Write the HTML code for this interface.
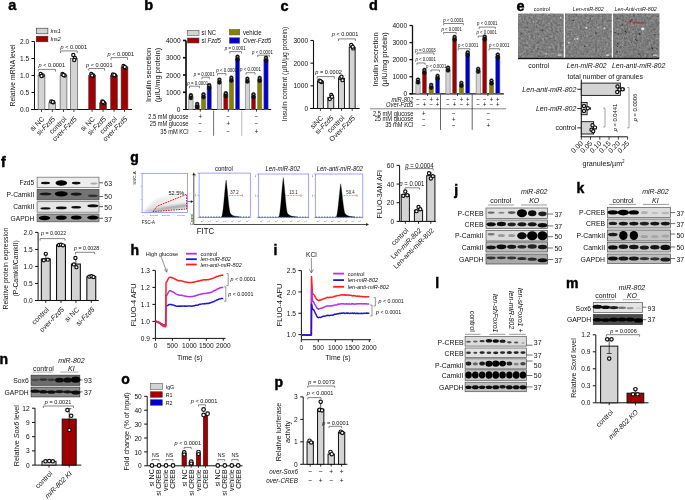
<!DOCTYPE html>
<html><head><meta charset="utf-8"><style>
html,body{margin:0;padding:0;background:#fff;}
svg{display:block;font-family:"Liberation Sans", sans-serif;will-change:transform;}
</style></head><body>
<svg width="685" height="500" viewBox="0 0 685 500">
<defs>
<filter id="bl" x="-30%" y="-60%" width="160%" height="220%"><feGaussianBlur stdDeviation="0.9"/></filter>
<filter id="bl2" x="-30%" y="-60%" width="160%" height="220%"><feGaussianBlur stdDeviation="0.6"/></filter>
<filter id="nz" x="0" y="0" width="100%" height="100%" color-interpolation-filters="sRGB"><feTurbulence type="fractalNoise" baseFrequency="0.45" numOctaves="3" seed="5"/><feColorMatrix type="matrix" values="0.6 0.6 0.6 0 -0.4  0.6 0.6 0.6 0 -0.4  0.6 0.6 0.6 0 -0.4  0 0 0 0 0.32"/></filter>
<filter id="noise" x="0" y="0" width="100%" height="100%"><feTurbulence type="fractalNoise" baseFrequency="0.9" numOctaves="2" seed="3" result="n"/><feColorMatrix type="matrix" values="0 0 0 0 0.5  0 0 0 0 0.5  0 0 0 0 0.5  0.33 0.33 0.33 0 -0.2" in="n" result="m"/><feComposite in="m" in2="SourceGraphic" operator="in"/></filter>
</defs>
<rect width="685" height="500" fill="#fff"/>
<text x="8.3" y="10.4" font-size="14.5" font-weight="bold" fill="#000" stroke="#000" stroke-width="0.45">a</text>
<rect x="36.30" y="28.20" width="11.60" height="5.60" fill="#d4d4d4" stroke="#333" stroke-width="0.6"/>
<rect x="36.30" y="36.20" width="11.60" height="5.60" fill="#a00000" stroke="#333" stroke-width="0.6"/>
<text transform="translate(50.50 33.17) scale(0.9 1)" font-size="6.11" text-anchor="start" fill="#111" font-style="italic">Ins1</text>
<text transform="translate(50.50 41.17) scale(0.9 1)" font-size="6.11" text-anchor="start" fill="#111" font-style="italic">Ins2</text>
<line x1="34.50" y1="41.50" x2="34.50" y2="109.50" stroke="#111" stroke-width="1.0"/>
<line x1="31.50" y1="109.50" x2="34.50" y2="109.50" stroke="#111" stroke-width="1.0"/>
<text transform="translate(29.10 112.10) scale(0.9 1)" font-size="7.33" text-anchor="end" fill="#111">0.0</text>
<line x1="31.50" y1="92.50" x2="34.50" y2="92.50" stroke="#111" stroke-width="1.0"/>
<text transform="translate(29.10 95.10) scale(0.9 1)" font-size="7.33" text-anchor="end" fill="#111">0.5</text>
<line x1="31.50" y1="75.50" x2="34.50" y2="75.50" stroke="#111" stroke-width="1.0"/>
<text transform="translate(29.10 78.10) scale(0.9 1)" font-size="7.33" text-anchor="end" fill="#111">1.0</text>
<line x1="31.50" y1="58.50" x2="34.50" y2="58.50" stroke="#111" stroke-width="1.0"/>
<text transform="translate(29.10 61.10) scale(0.9 1)" font-size="7.33" text-anchor="end" fill="#111">1.5</text>
<line x1="31.50" y1="41.50" x2="34.50" y2="41.50" stroke="#111" stroke-width="1.0"/>
<text transform="translate(29.10 44.10) scale(0.9 1)" font-size="7.33" text-anchor="end" fill="#111">2.0</text>
<line x1="31.20" y1="109.50" x2="132.00" y2="109.50" stroke="#111" stroke-width="1.0"/>
<rect x="38.10" y="75.50" width="6.80" height="34.00" fill="#d4d4d4" stroke="#444" stroke-width="0.6"/>
<line x1="41.50" y1="109.50" x2="41.50" y2="111.90" stroke="#111" stroke-width="0.8"/>
<rect x="48.90" y="102.70" width="6.80" height="6.80" fill="#d4d4d4" stroke="#444" stroke-width="0.6"/>
<line x1="52.30" y1="109.50" x2="52.30" y2="111.90" stroke="#111" stroke-width="0.8"/>
<rect x="60.10" y="75.50" width="6.80" height="34.00" fill="#d4d4d4" stroke="#444" stroke-width="0.6"/>
<line x1="63.50" y1="109.50" x2="63.50" y2="111.90" stroke="#111" stroke-width="0.8"/>
<rect x="70.50" y="58.50" width="6.80" height="51.00" fill="#d4d4d4" stroke="#444" stroke-width="0.6"/>
<line x1="73.90" y1="109.50" x2="73.90" y2="111.90" stroke="#111" stroke-width="0.8"/>
<rect x="88.70" y="75.50" width="6.80" height="34.00" fill="#a00000" stroke="#444" stroke-width="0.6"/>
<line x1="92.10" y1="109.50" x2="92.10" y2="111.90" stroke="#111" stroke-width="0.8"/>
<rect x="99.70" y="102.70" width="6.80" height="6.80" fill="#a00000" stroke="#444" stroke-width="0.6"/>
<line x1="103.10" y1="109.50" x2="103.10" y2="111.90" stroke="#111" stroke-width="0.8"/>
<rect x="110.60" y="75.50" width="6.80" height="34.00" fill="#a00000" stroke="#444" stroke-width="0.6"/>
<line x1="114.00" y1="109.50" x2="114.00" y2="111.90" stroke="#111" stroke-width="0.8"/>
<rect x="121.10" y="67.00" width="6.80" height="42.50" fill="#a00000" stroke="#444" stroke-width="0.6"/>
<line x1="124.50" y1="109.50" x2="124.50" y2="111.90" stroke="#111" stroke-width="0.8"/>
<circle cx="40.70" cy="74.00" r="1.6" fill="#fff" stroke="#111" stroke-width="1.2"/>
<circle cx="42.70" cy="75.50" r="1.6" fill="#fff" stroke="#111" stroke-width="1.2"/>
<circle cx="41.50" cy="76.00" r="1.6" fill="#fff" stroke="#111" stroke-width="1.2"/>
<circle cx="51.30" cy="101.50" r="1.6" fill="#fff" stroke="#111" stroke-width="1.2"/>
<circle cx="53.30" cy="102.30" r="1.6" fill="#fff" stroke="#111" stroke-width="1.2"/>
<circle cx="52.80" cy="102.00" r="1.6" fill="#fff" stroke="#111" stroke-width="1.2"/>
<circle cx="62.50" cy="74.00" r="1.6" fill="#fff" stroke="#111" stroke-width="1.2"/>
<circle cx="64.70" cy="75.50" r="1.6" fill="#fff" stroke="#111" stroke-width="1.2"/>
<circle cx="63.50" cy="75.00" r="1.6" fill="#fff" stroke="#111" stroke-width="1.2"/>
<circle cx="73.30" cy="55.00" r="1.6" fill="#fff" stroke="#111" stroke-width="1.2"/>
<circle cx="74.90" cy="58.00" r="1.6" fill="#fff" stroke="#111" stroke-width="1.2"/>
<circle cx="74.20" cy="60.00" r="1.6" fill="#fff" stroke="#111" stroke-width="1.2"/>
<circle cx="91.30" cy="74.00" r="1.6" fill="#fff" stroke="#111" stroke-width="1.2"/>
<circle cx="93.30" cy="75.50" r="1.6" fill="#fff" stroke="#111" stroke-width="1.2"/>
<circle cx="92.10" cy="75.50" r="1.6" fill="#fff" stroke="#111" stroke-width="1.2"/>
<circle cx="102.30" cy="101.50" r="1.6" fill="#fff" stroke="#111" stroke-width="1.2"/>
<circle cx="104.10" cy="103.00" r="1.6" fill="#fff" stroke="#111" stroke-width="1.2"/>
<circle cx="103.10" cy="102.00" r="1.6" fill="#fff" stroke="#111" stroke-width="1.2"/>
<circle cx="113.00" cy="74.50" r="1.6" fill="#fff" stroke="#111" stroke-width="1.2"/>
<circle cx="115.00" cy="75.50" r="1.6" fill="#fff" stroke="#111" stroke-width="1.2"/>
<circle cx="114.30" cy="75.00" r="1.6" fill="#fff" stroke="#111" stroke-width="1.2"/>
<circle cx="123.50" cy="66.00" r="1.6" fill="#fff" stroke="#111" stroke-width="1.2"/>
<circle cx="125.70" cy="68.00" r="1.6" fill="#fff" stroke="#111" stroke-width="1.2"/>
<circle cx="124.80" cy="67.00" r="1.6" fill="#fff" stroke="#111" stroke-width="1.2"/>
<path d="M38.30 71.60V69.40H55.50V71.60" fill="none" stroke="#333" stroke-width="0.6"/>
<text transform="translate(38.50 66.61) scale(0.9 1)" font-size="6.22" text-anchor="start" fill="#111"><tspan font-style="italic">p</tspan> &lt; 0.0001</text>
<path d="M60.50 53.10V50.90H77.20V53.10" fill="none" stroke="#333" stroke-width="0.6"/>
<text transform="translate(60.50 49.01) scale(0.9 1)" font-size="6.22" text-anchor="start" fill="#111"><tspan font-style="italic">p</tspan> &lt; 0.0001</text>
<path d="M88.80 70.70V68.50H104.50V70.70" fill="none" stroke="#333" stroke-width="0.6"/>
<text transform="translate(86.00 66.61) scale(0.9 1)" font-size="6.22" text-anchor="start" fill="#111"><tspan font-style="italic">p</tspan> &lt; 0.0001</text>
<path d="M111.00 59.80V57.60H127.50V59.80" fill="none" stroke="#333" stroke-width="0.6"/>
<text transform="translate(107.50 55.71) scale(0.9 1)" font-size="6.22" text-anchor="start" fill="#111"><tspan font-style="italic">p</tspan> &lt; 0.0001</text>
<text x="12.30" y="77.91" font-size="6.8" text-anchor="middle" fill="#111" transform="rotate(-90 12.30 75.50)">Relative mRNA level</text>
<text x="44.80" y="119.50" font-size="7" text-anchor="end" fill="#111" transform="rotate(-45 44.80 119.50)">si NC</text>
<text x="55.60" y="119.50" font-size="7" text-anchor="end" fill="#111" transform="rotate(-45 55.60 119.50)">si-<tspan font-style="italic">Fzd5</tspan></text>
<text x="66.80" y="119.50" font-size="7" text-anchor="end" fill="#111" transform="rotate(-45 66.80 119.50)">control</text>
<text x="77.20" y="119.50" font-size="7" text-anchor="end" fill="#111" transform="rotate(-45 77.20 119.50)">over-<tspan font-style="italic">Fzd5</tspan></text>
<text x="95.40" y="119.50" font-size="7" text-anchor="end" fill="#111" transform="rotate(-45 95.40 119.50)">si NC</text>
<text x="106.40" y="119.50" font-size="7" text-anchor="end" fill="#111" transform="rotate(-45 106.40 119.50)">si-<tspan font-style="italic">Fzd5</tspan></text>
<text x="117.30" y="119.50" font-size="7" text-anchor="end" fill="#111" transform="rotate(-45 117.30 119.50)">control</text>
<text x="127.80" y="119.50" font-size="7" text-anchor="end" fill="#111" transform="rotate(-45 127.80 119.50)">over-<tspan font-style="italic">Fzd5</tspan></text>
<text x="144.2" y="10.3" font-size="14.5" font-weight="bold" fill="#000" stroke="#000" stroke-width="0.45">b</text>
<rect x="187.30" y="30.40" width="11.70" height="5.00" fill="#d4d4d4" stroke="#555" stroke-width="0.6"/>
<text transform="translate(201.50 35.37) scale(0.9 1)" font-size="6.67" text-anchor="start" fill="#111">si NC</text>
<rect x="187.30" y="38.00" width="11.70" height="5.00" fill="#a00000" stroke="#555" stroke-width="0.6"/>
<text transform="translate(201.50 42.97) scale(0.9 1)" font-size="6.67" text-anchor="start" fill="#111">si <tspan font-style="italic">Fzd5</tspan></text>
<rect x="229.40" y="29.60" width="10.30" height="5.30" fill="#858000" stroke="#555" stroke-width="0.6"/>
<text transform="translate(243.00 34.67) scale(0.9 1)" font-size="6.67" text-anchor="start" fill="#111">vehicle</text>
<rect x="229.40" y="37.80" width="10.30" height="5.40" fill="#0000c8" stroke="#555" stroke-width="0.6"/>
<text transform="translate(243.00 42.87) scale(0.9 1)" font-size="6.67" text-anchor="start" fill="#111" font-style="italic">Over-Fzd5</text>
<line x1="186.00" y1="40.50" x2="186.00" y2="109.50" stroke="#111" stroke-width="1.7"/>
<line x1="183.00" y1="92.25" x2="186.00" y2="92.25" stroke="#111" stroke-width="1.7"/>
<text transform="translate(180.60 94.85) scale(0.9 1)" font-size="7.33" text-anchor="end" fill="#111">1000</text>
<line x1="183.00" y1="75.00" x2="186.00" y2="75.00" stroke="#111" stroke-width="1.7"/>
<text transform="translate(180.60 77.60) scale(0.9 1)" font-size="7.33" text-anchor="end" fill="#111">2000</text>
<line x1="183.00" y1="57.75" x2="186.00" y2="57.75" stroke="#111" stroke-width="1.7"/>
<text transform="translate(180.60 60.35) scale(0.9 1)" font-size="7.33" text-anchor="end" fill="#111">3000</text>
<line x1="183.00" y1="40.50" x2="186.00" y2="40.50" stroke="#111" stroke-width="1.7"/>
<text transform="translate(180.60 43.10) scale(0.9 1)" font-size="7.33" text-anchor="end" fill="#111">4000</text>
<line x1="183.00" y1="109.50" x2="186.00" y2="109.50" stroke="#111" stroke-width="1.0"/>
<text transform="translate(180.40 112.10) scale(0.9 1)" font-size="7.33" text-anchor="end" fill="#111">0</text>
<line x1="183.00" y1="109.50" x2="271.20" y2="109.50" stroke="#111" stroke-width="1.1"/>
<rect x="188.75" y="96.60" width="4.30" height="12.90" fill="#d4d4d4" stroke="#777" stroke-width="0.6"/>
<rect x="195.05" y="105.39" width="4.30" height="4.11" fill="#a00000" stroke="#777" stroke-width="0.6"/>
<rect x="201.35" y="95.70" width="4.30" height="13.80" fill="#858000" stroke="#777" stroke-width="0.6"/>
<rect x="207.05" y="86.56" width="4.30" height="22.94" fill="#0000c8" stroke="#777" stroke-width="0.6"/>
<rect x="217.25" y="81.04" width="4.30" height="28.46" fill="#d4d4d4" stroke="#777" stroke-width="0.6"/>
<rect x="223.65" y="94.66" width="4.30" height="14.84" fill="#a00000" stroke="#777" stroke-width="0.6"/>
<rect x="229.25" y="79.14" width="4.30" height="30.36" fill="#858000" stroke="#777" stroke-width="0.6"/>
<rect x="235.35" y="58.16" width="4.30" height="51.34" fill="#0000c8" stroke="#777" stroke-width="0.6"/>
<rect x="245.25" y="80.17" width="4.30" height="29.33" fill="#d4d4d4" stroke="#777" stroke-width="0.6"/>
<rect x="251.35" y="95.70" width="4.30" height="13.80" fill="#a00000" stroke="#777" stroke-width="0.6"/>
<rect x="257.55" y="79.31" width="4.30" height="30.19" fill="#858000" stroke="#777" stroke-width="0.6"/>
<rect x="263.85" y="59.13" width="4.30" height="50.37" fill="#0000c8" stroke="#777" stroke-width="0.6"/>
<circle cx="190.90" cy="95.20" r="1.9" fill="#151515" stroke="#000" stroke-width="0.5"/>
<circle cx="190.90" cy="98.00" r="1.9" fill="#151515" stroke="#000" stroke-width="0.5"/>
<ellipse cx="190.90" cy="95.20" rx="0.9" ry="0.5" fill="#bbb"/>
<circle cx="197.20" cy="103.99" r="1.9" fill="#151515" stroke="#000" stroke-width="0.5"/>
<circle cx="197.20" cy="106.79" r="1.9" fill="#151515" stroke="#000" stroke-width="0.5"/>
<ellipse cx="197.20" cy="103.99" rx="0.9" ry="0.5" fill="#bbb"/>
<circle cx="203.50" cy="94.30" r="1.9" fill="#151515" stroke="#000" stroke-width="0.5"/>
<circle cx="203.50" cy="97.10" r="1.9" fill="#151515" stroke="#000" stroke-width="0.5"/>
<ellipse cx="203.50" cy="94.30" rx="0.9" ry="0.5" fill="#bbb"/>
<circle cx="209.20" cy="85.16" r="1.9" fill="#151515" stroke="#000" stroke-width="0.5"/>
<circle cx="209.20" cy="87.96" r="1.9" fill="#151515" stroke="#000" stroke-width="0.5"/>
<ellipse cx="209.20" cy="85.16" rx="0.9" ry="0.5" fill="#bbb"/>
<circle cx="219.40" cy="79.64" r="1.9" fill="#151515" stroke="#000" stroke-width="0.5"/>
<circle cx="219.40" cy="82.44" r="1.9" fill="#151515" stroke="#000" stroke-width="0.5"/>
<ellipse cx="219.40" cy="79.64" rx="0.9" ry="0.5" fill="#bbb"/>
<circle cx="225.80" cy="93.26" r="1.9" fill="#151515" stroke="#000" stroke-width="0.5"/>
<circle cx="225.80" cy="96.06" r="1.9" fill="#151515" stroke="#000" stroke-width="0.5"/>
<ellipse cx="225.80" cy="93.26" rx="0.9" ry="0.5" fill="#bbb"/>
<circle cx="231.40" cy="77.74" r="1.9" fill="#151515" stroke="#000" stroke-width="0.5"/>
<circle cx="231.40" cy="80.54" r="1.9" fill="#151515" stroke="#000" stroke-width="0.5"/>
<ellipse cx="231.40" cy="77.74" rx="0.9" ry="0.5" fill="#bbb"/>
<circle cx="237.50" cy="56.76" r="1.9" fill="#151515" stroke="#000" stroke-width="0.5"/>
<circle cx="237.50" cy="59.56" r="1.9" fill="#151515" stroke="#000" stroke-width="0.5"/>
<ellipse cx="237.50" cy="56.76" rx="0.9" ry="0.5" fill="#bbb"/>
<circle cx="247.40" cy="78.77" r="1.9" fill="#151515" stroke="#000" stroke-width="0.5"/>
<circle cx="247.40" cy="81.58" r="1.9" fill="#151515" stroke="#000" stroke-width="0.5"/>
<ellipse cx="247.40" cy="78.77" rx="0.9" ry="0.5" fill="#bbb"/>
<circle cx="253.50" cy="94.30" r="1.9" fill="#151515" stroke="#000" stroke-width="0.5"/>
<circle cx="253.50" cy="97.10" r="1.9" fill="#151515" stroke="#000" stroke-width="0.5"/>
<ellipse cx="253.50" cy="94.30" rx="0.9" ry="0.5" fill="#bbb"/>
<circle cx="259.70" cy="77.91" r="1.9" fill="#151515" stroke="#000" stroke-width="0.5"/>
<circle cx="259.70" cy="80.71" r="1.9" fill="#151515" stroke="#000" stroke-width="0.5"/>
<ellipse cx="259.70" cy="77.91" rx="0.9" ry="0.5" fill="#bbb"/>
<circle cx="266.00" cy="57.73" r="1.9" fill="#151515" stroke="#000" stroke-width="0.5"/>
<circle cx="266.00" cy="60.53" r="1.9" fill="#151515" stroke="#000" stroke-width="0.5"/>
<ellipse cx="266.00" cy="57.73" rx="0.9" ry="0.5" fill="#bbb"/>
<line x1="200.30" y1="109.50" x2="200.30" y2="111.70" stroke="#111" stroke-width="0.8"/>
<line x1="228.30" y1="109.50" x2="228.30" y2="111.70" stroke="#111" stroke-width="0.8"/>
<line x1="256.50" y1="109.50" x2="256.50" y2="111.70" stroke="#111" stroke-width="0.8"/>
<line x1="213.60" y1="110.50" x2="213.60" y2="135.80" stroke="#333" stroke-width="0.7"/>
<line x1="241.80" y1="110.50" x2="241.80" y2="135.80" stroke="#999" stroke-width="0.7"/>
<text transform="translate(188.40 118.55) scale(0.9 1)" font-size="6.33" text-anchor="end" fill="#111">2.5 mM glucose</text>
<text transform="translate(188.40 126.15) scale(0.9 1)" font-size="6.33" text-anchor="end" fill="#111">25 mM glucose</text>
<text transform="translate(188.40 133.55) scale(0.9 1)" font-size="6.33" text-anchor="end" fill="#111">35 mM KCl</text>
<text transform="translate(200.30 118.67) scale(0.9 1)" font-size="6.67" text-anchor="middle" fill="#111">+</text>
<text transform="translate(228.30 118.67) scale(0.9 1)" font-size="6.67" text-anchor="middle" fill="#111">−</text>
<text transform="translate(256.50 118.67) scale(0.9 1)" font-size="6.67" text-anchor="middle" fill="#111">−</text>
<text transform="translate(200.30 126.27) scale(0.9 1)" font-size="6.67" text-anchor="middle" fill="#111">−</text>
<text transform="translate(228.30 126.27) scale(0.9 1)" font-size="6.67" text-anchor="middle" fill="#111">+</text>
<text transform="translate(256.50 126.27) scale(0.9 1)" font-size="6.67" text-anchor="middle" fill="#111">−</text>
<text transform="translate(200.30 133.67) scale(0.9 1)" font-size="6.67" text-anchor="middle" fill="#111">−</text>
<text transform="translate(228.30 133.67) scale(0.9 1)" font-size="6.67" text-anchor="middle" fill="#111">−</text>
<text transform="translate(256.50 133.67) scale(0.9 1)" font-size="6.67" text-anchor="middle" fill="#111">+</text>
<path d="M189.50 88.20V86.20H199.40V88.20" fill="none" stroke="#333" stroke-width="0.6"/>
<text transform="translate(187.30 84.54) scale(0.9 1)" font-size="4.89" text-anchor="start" fill="#111"><tspan font-style="italic">p</tspan> = 0.0001</text>
<path d="M202.00 79.20V77.20H209.30V79.20" fill="none" stroke="#333" stroke-width="0.6"/>
<text transform="translate(193.80 75.54) scale(0.9 1)" font-size="4.89" text-anchor="start" fill="#111"><tspan font-style="italic">p</tspan> = 0.0001</text>
<path d="M217.50 75.60V73.60H226.00V75.60" fill="none" stroke="#333" stroke-width="0.6"/>
<text transform="translate(216.30 72.34) scale(0.9 1)" font-size="4.89" text-anchor="start" fill="#111"><tspan font-style="italic">p</tspan> &lt; 0.0001</text>
<path d="M229.80 53.60V51.60H241.50V53.60" fill="none" stroke="#333" stroke-width="0.6"/>
<text transform="translate(235.20 49.94) scale(0.9 1)" font-size="4.89" text-anchor="middle" fill="#111"><tspan font-style="italic">p</tspan> = 0.0001</text>
<path d="M246.00 74.70V72.70H255.00V74.70" fill="none" stroke="#333" stroke-width="0.6"/>
<text transform="translate(250.50 71.14) scale(0.9 1)" font-size="4.89" text-anchor="middle" fill="#111"><tspan font-style="italic">p</tspan> &lt; 0.0001</text>
<path d="M257.70 57.20V55.20H269.40V57.20" fill="none" stroke="#333" stroke-width="0.6"/>
<text transform="translate(262.50 53.54) scale(0.9 1)" font-size="4.89" text-anchor="middle" fill="#111"><tspan font-style="italic">p</tspan> &lt; 0.0001</text>
<text x="148.20" y="77.66" font-size="7.5" text-anchor="middle" fill="#111" transform="rotate(-90 148.20 75.00)">Insulin secretion</text>
<text x="157.20" y="77.66" font-size="7.5" text-anchor="middle" fill="#111" transform="rotate(-90 157.20 75.00)">(µIU/mg protein)</text>
<text x="280.4" y="10.6" font-size="14.5" font-weight="bold" fill="#000" stroke="#000" stroke-width="0.45">c</text>
<line x1="313.50" y1="40.50" x2="313.50" y2="108.50" stroke="#111" stroke-width="1.1"/>
<line x1="310.50" y1="108.50" x2="313.50" y2="108.50" stroke="#111" stroke-width="1.1"/>
<text transform="translate(308.10 111.10) scale(0.9 1)" font-size="7.33" text-anchor="end" fill="#111">0</text>
<line x1="310.50" y1="85.83" x2="313.50" y2="85.83" stroke="#111" stroke-width="1.1"/>
<text transform="translate(308.10 88.43) scale(0.9 1)" font-size="7.33" text-anchor="end" fill="#111">1000</text>
<line x1="310.50" y1="63.16" x2="313.50" y2="63.16" stroke="#111" stroke-width="1.1"/>
<text transform="translate(308.10 65.76) scale(0.9 1)" font-size="7.33" text-anchor="end" fill="#111">2000</text>
<line x1="310.50" y1="40.49" x2="313.50" y2="40.49" stroke="#111" stroke-width="1.1"/>
<text transform="translate(308.10 43.09) scale(0.9 1)" font-size="7.33" text-anchor="end" fill="#111">3000</text>
<line x1="310.20" y1="108.50" x2="359.70" y2="108.50" stroke="#111" stroke-width="1.1"/>
<rect x="317.45" y="81.30" width="5.90" height="27.20" fill="#d4d4d4" stroke="#111" stroke-width="0.95"/>
<line x1="320.40" y1="108.50" x2="320.40" y2="110.90" stroke="#111" stroke-width="0.8"/>
<rect x="327.85" y="97.39" width="5.90" height="11.11" fill="#d4d4d4" stroke="#111" stroke-width="0.95"/>
<line x1="330.80" y1="108.50" x2="330.80" y2="110.90" stroke="#111" stroke-width="0.8"/>
<rect x="338.55" y="78.35" width="5.90" height="30.15" fill="#d4d4d4" stroke="#111" stroke-width="0.95"/>
<line x1="341.50" y1="108.50" x2="341.50" y2="110.90" stroke="#111" stroke-width="0.8"/>
<rect x="349.25" y="47.29" width="5.90" height="61.21" fill="#d4d4d4" stroke="#111" stroke-width="0.95"/>
<line x1="352.20" y1="108.50" x2="352.20" y2="110.90" stroke="#111" stroke-width="0.8"/>
<line x1="352.20" y1="44.57" x2="352.20" y2="47.29" stroke="#111" stroke-width="0.7"/>
<line x1="350.70" y1="44.57" x2="353.70" y2="44.57" stroke="#111" stroke-width="0.7"/>
<circle cx="319.40" cy="80.62" r="1.6" fill="#fff" stroke="#111" stroke-width="1.2"/>
<circle cx="321.40" cy="81.98" r="1.6" fill="#fff" stroke="#111" stroke-width="1.2"/>
<circle cx="320.40" cy="81.30" r="1.6" fill="#fff" stroke="#111" stroke-width="1.2"/>
<circle cx="331.30" cy="94.90" r="1.6" fill="#fff" stroke="#111" stroke-width="1.2"/>
<circle cx="329.80" cy="98.98" r="1.6" fill="#fff" stroke="#111" stroke-width="1.2"/>
<circle cx="332.00" cy="96.71" r="1.6" fill="#fff" stroke="#111" stroke-width="1.2"/>
<circle cx="340.50" cy="77.90" r="1.6" fill="#fff" stroke="#111" stroke-width="1.2"/>
<circle cx="342.50" cy="80.16" r="1.6" fill="#fff" stroke="#111" stroke-width="1.2"/>
<circle cx="341.50" cy="76.76" r="1.6" fill="#fff" stroke="#111" stroke-width="1.2"/>
<circle cx="351.20" cy="45.02" r="1.6" fill="#fff" stroke="#111" stroke-width="1.2"/>
<circle cx="353.20" cy="48.42" r="1.6" fill="#fff" stroke="#111" stroke-width="1.2"/>
<circle cx="352.70" cy="46.84" r="1.6" fill="#fff" stroke="#111" stroke-width="1.2"/>
<path d="M317.20 78.80V76.60H334.30V78.80" fill="none" stroke="#333" stroke-width="0.6"/>
<text transform="translate(328.60 74.41) scale(0.9 1)" font-size="6.22" text-anchor="middle" fill="#111"><tspan font-style="italic">p</tspan> = 0.0002</text>
<path d="M338.50 41.10V38.90H355.40V41.10" fill="none" stroke="#333" stroke-width="0.6"/>
<text transform="translate(345.00 36.41) scale(0.9 1)" font-size="6.22" text-anchor="middle" fill="#111"><tspan font-style="italic">p</tspan> &lt; 0.0001</text>
<text x="284.30" y="76.45" font-size="6.9" text-anchor="middle" fill="#111" transform="rotate(-90 284.30 74.00)">Insulin content (µIU/µg protein)</text>
<text x="323.70" y="118.50" font-size="7" text-anchor="end" fill="#111" transform="rotate(-45 323.70 118.50)">siNC</text>
<text x="334.10" y="118.50" font-size="7" text-anchor="end" fill="#111" transform="rotate(-45 334.10 118.50)">si-<tspan font-style="italic">Fzd5</tspan></text>
<text x="344.80" y="118.50" font-size="7" text-anchor="end" fill="#111" transform="rotate(-45 344.80 118.50)">control</text>
<text x="355.50" y="118.50" font-size="7" text-anchor="end" fill="#111" transform="rotate(-45 355.50 118.50)">Over-<tspan font-style="italic">Fzd5</tspan></text>
<text x="369.0" y="10.4" font-size="14.5" font-weight="bold" fill="#000" stroke="#000" stroke-width="0.45">d</text>
<line x1="412.50" y1="25.50" x2="412.50" y2="93.80" stroke="#111" stroke-width="1.3"/>
<line x1="409.50" y1="93.80" x2="412.50" y2="93.80" stroke="#111" stroke-width="1.3"/>
<text transform="translate(407.10 96.40) scale(0.9 1)" font-size="7.33" text-anchor="end" fill="#111">0</text>
<line x1="409.50" y1="76.73" x2="412.50" y2="76.73" stroke="#111" stroke-width="1.3"/>
<text transform="translate(407.10 79.33) scale(0.9 1)" font-size="7.33" text-anchor="end" fill="#111">1000</text>
<line x1="409.50" y1="59.66" x2="412.50" y2="59.66" stroke="#111" stroke-width="1.3"/>
<text transform="translate(407.10 62.26) scale(0.9 1)" font-size="7.33" text-anchor="end" fill="#111">2000</text>
<line x1="409.50" y1="42.59" x2="412.50" y2="42.59" stroke="#111" stroke-width="1.3"/>
<text transform="translate(407.10 45.19) scale(0.9 1)" font-size="7.33" text-anchor="end" fill="#111">3000</text>
<line x1="409.50" y1="25.52" x2="412.50" y2="25.52" stroke="#111" stroke-width="1.3"/>
<text transform="translate(407.10 28.12) scale(0.9 1)" font-size="7.33" text-anchor="end" fill="#111">4000</text>
<line x1="409.30" y1="93.80" x2="503.90" y2="93.80" stroke="#111" stroke-width="1.3"/>
<rect x="415.90" y="81.00" width="4.20" height="12.80" fill="#d4d4d4" stroke="#777" stroke-width="0.6"/>
<rect x="422.30" y="71.40" width="4.20" height="22.40" fill="#a00000" stroke="#777" stroke-width="0.6"/>
<rect x="429.10" y="86.29" width="4.20" height="7.51" fill="#858000" stroke="#777" stroke-width="0.6"/>
<rect x="435.50" y="77.24" width="4.20" height="16.56" fill="#0000c8" stroke="#777" stroke-width="0.6"/>
<rect x="445.90" y="69.05" width="4.20" height="24.75" fill="#d4d4d4" stroke="#777" stroke-width="0.6"/>
<rect x="452.50" y="38.32" width="4.20" height="55.48" fill="#a00000" stroke="#777" stroke-width="0.6"/>
<rect x="459.30" y="84.24" width="4.20" height="9.56" fill="#858000" stroke="#777" stroke-width="0.6"/>
<rect x="465.60" y="53.69" width="4.20" height="40.11" fill="#0000c8" stroke="#777" stroke-width="0.6"/>
<rect x="476.10" y="70.24" width="4.20" height="23.56" fill="#d4d4d4" stroke="#777" stroke-width="0.6"/>
<rect x="482.60" y="37.98" width="4.20" height="55.82" fill="#a00000" stroke="#777" stroke-width="0.6"/>
<rect x="489.40" y="82.02" width="4.20" height="11.78" fill="#858000" stroke="#777" stroke-width="0.6"/>
<rect x="495.70" y="55.99" width="4.20" height="37.81" fill="#0000c8" stroke="#777" stroke-width="0.6"/>
<circle cx="418.00" cy="79.60" r="1.9" fill="#151515" stroke="#000" stroke-width="0.5"/>
<circle cx="418.00" cy="82.40" r="1.9" fill="#151515" stroke="#000" stroke-width="0.5"/>
<ellipse cx="418.00" cy="79.60" rx="0.9" ry="0.5" fill="#bbb"/>
<circle cx="424.40" cy="70.00" r="1.9" fill="#151515" stroke="#000" stroke-width="0.5"/>
<circle cx="424.40" cy="72.80" r="1.9" fill="#151515" stroke="#000" stroke-width="0.5"/>
<ellipse cx="424.40" cy="70.00" rx="0.9" ry="0.5" fill="#bbb"/>
<circle cx="431.20" cy="84.89" r="1.9" fill="#151515" stroke="#000" stroke-width="0.5"/>
<circle cx="431.20" cy="87.69" r="1.9" fill="#151515" stroke="#000" stroke-width="0.5"/>
<ellipse cx="431.20" cy="84.89" rx="0.9" ry="0.5" fill="#bbb"/>
<circle cx="437.60" cy="75.84" r="1.9" fill="#151515" stroke="#000" stroke-width="0.5"/>
<circle cx="437.60" cy="78.64" r="1.9" fill="#151515" stroke="#000" stroke-width="0.5"/>
<ellipse cx="437.60" cy="75.84" rx="0.9" ry="0.5" fill="#bbb"/>
<circle cx="448.00" cy="67.65" r="1.9" fill="#151515" stroke="#000" stroke-width="0.5"/>
<circle cx="448.00" cy="70.45" r="1.9" fill="#151515" stroke="#000" stroke-width="0.5"/>
<ellipse cx="448.00" cy="67.65" rx="0.9" ry="0.5" fill="#bbb"/>
<circle cx="454.60" cy="36.92" r="1.9" fill="#151515" stroke="#000" stroke-width="0.5"/>
<circle cx="454.60" cy="39.72" r="1.9" fill="#151515" stroke="#000" stroke-width="0.5"/>
<ellipse cx="454.60" cy="36.92" rx="0.9" ry="0.5" fill="#bbb"/>
<circle cx="461.40" cy="82.84" r="1.9" fill="#151515" stroke="#000" stroke-width="0.5"/>
<circle cx="461.40" cy="85.64" r="1.9" fill="#151515" stroke="#000" stroke-width="0.5"/>
<ellipse cx="461.40" cy="82.84" rx="0.9" ry="0.5" fill="#bbb"/>
<circle cx="467.70" cy="52.29" r="1.9" fill="#151515" stroke="#000" stroke-width="0.5"/>
<circle cx="467.70" cy="55.09" r="1.9" fill="#151515" stroke="#000" stroke-width="0.5"/>
<ellipse cx="467.70" cy="52.29" rx="0.9" ry="0.5" fill="#bbb"/>
<circle cx="478.20" cy="68.84" r="1.9" fill="#151515" stroke="#000" stroke-width="0.5"/>
<circle cx="478.20" cy="71.64" r="1.9" fill="#151515" stroke="#000" stroke-width="0.5"/>
<ellipse cx="478.20" cy="68.84" rx="0.9" ry="0.5" fill="#bbb"/>
<circle cx="484.70" cy="36.58" r="1.9" fill="#151515" stroke="#000" stroke-width="0.5"/>
<circle cx="484.70" cy="39.38" r="1.9" fill="#151515" stroke="#000" stroke-width="0.5"/>
<ellipse cx="484.70" cy="36.58" rx="0.9" ry="0.5" fill="#bbb"/>
<circle cx="491.50" cy="80.62" r="1.9" fill="#151515" stroke="#000" stroke-width="0.5"/>
<circle cx="491.50" cy="83.42" r="1.9" fill="#151515" stroke="#000" stroke-width="0.5"/>
<ellipse cx="491.50" cy="80.62" rx="0.9" ry="0.5" fill="#bbb"/>
<circle cx="497.80" cy="54.59" r="1.9" fill="#151515" stroke="#000" stroke-width="0.5"/>
<circle cx="497.80" cy="57.39" r="1.9" fill="#151515" stroke="#000" stroke-width="0.5"/>
<ellipse cx="497.80" cy="54.59" rx="0.9" ry="0.5" fill="#bbb"/>
<line x1="427.60" y1="93.80" x2="427.60" y2="96.00" stroke="#111" stroke-width="0.8"/>
<line x1="457.50" y1="93.80" x2="457.50" y2="96.00" stroke="#111" stroke-width="0.8"/>
<line x1="487.90" y1="93.80" x2="487.90" y2="96.00" stroke="#111" stroke-width="0.8"/>
<text transform="translate(413.30 102.09) scale(0.9 1)" font-size="6.44" text-anchor="end" fill="#111" font-style="italic">miR-802</text>
<text transform="translate(413.30 107.19) scale(0.9 1)" font-size="6.44" text-anchor="end" fill="#111" font-style="italic">Over-Fzd5</text>
<text transform="translate(418.00 102.17) scale(0.9 1)" font-size="6.67" text-anchor="middle" fill="#111">−</text>
<text transform="translate(418.00 107.27) scale(0.9 1)" font-size="6.67" text-anchor="middle" fill="#111">−</text>
<text transform="translate(424.40 102.17) scale(0.9 1)" font-size="6.67" text-anchor="middle" fill="#111">−</text>
<text transform="translate(424.40 107.27) scale(0.9 1)" font-size="6.67" text-anchor="middle" fill="#111">+</text>
<text transform="translate(431.20 102.17) scale(0.9 1)" font-size="6.67" text-anchor="middle" fill="#111">+</text>
<text transform="translate(431.20 107.27) scale(0.9 1)" font-size="6.67" text-anchor="middle" fill="#111">−</text>
<text transform="translate(437.60 102.17) scale(0.9 1)" font-size="6.67" text-anchor="middle" fill="#111">+</text>
<text transform="translate(437.60 107.27) scale(0.9 1)" font-size="6.67" text-anchor="middle" fill="#111">+</text>
<text transform="translate(448.00 102.17) scale(0.9 1)" font-size="6.67" text-anchor="middle" fill="#111">−</text>
<text transform="translate(448.00 107.27) scale(0.9 1)" font-size="6.67" text-anchor="middle" fill="#111">−</text>
<text transform="translate(454.60 102.17) scale(0.9 1)" font-size="6.67" text-anchor="middle" fill="#111">−</text>
<text transform="translate(454.60 107.27) scale(0.9 1)" font-size="6.67" text-anchor="middle" fill="#111">+</text>
<text transform="translate(461.40 102.17) scale(0.9 1)" font-size="6.67" text-anchor="middle" fill="#111">+</text>
<text transform="translate(461.40 107.27) scale(0.9 1)" font-size="6.67" text-anchor="middle" fill="#111">−</text>
<text transform="translate(467.70 102.17) scale(0.9 1)" font-size="6.67" text-anchor="middle" fill="#111">+</text>
<text transform="translate(467.70 107.27) scale(0.9 1)" font-size="6.67" text-anchor="middle" fill="#111">+</text>
<text transform="translate(478.20 102.17) scale(0.9 1)" font-size="6.67" text-anchor="middle" fill="#111">−</text>
<text transform="translate(478.20 107.27) scale(0.9 1)" font-size="6.67" text-anchor="middle" fill="#111">−</text>
<text transform="translate(484.70 102.17) scale(0.9 1)" font-size="6.67" text-anchor="middle" fill="#111">−</text>
<text transform="translate(484.70 107.27) scale(0.9 1)" font-size="6.67" text-anchor="middle" fill="#111">+</text>
<text transform="translate(491.50 102.17) scale(0.9 1)" font-size="6.67" text-anchor="middle" fill="#111">+</text>
<text transform="translate(491.50 107.27) scale(0.9 1)" font-size="6.67" text-anchor="middle" fill="#111">−</text>
<text transform="translate(497.80 102.17) scale(0.9 1)" font-size="6.67" text-anchor="middle" fill="#111">+</text>
<text transform="translate(497.80 107.27) scale(0.9 1)" font-size="6.67" text-anchor="middle" fill="#111">+</text>
<line x1="370.00" y1="108.80" x2="506.00" y2="108.80" stroke="#333" stroke-width="0.6"/>
<text transform="translate(413.30 115.75) scale(0.9 1)" font-size="6.33" text-anchor="end" fill="#111">2.5 mM glucose</text>
<text transform="translate(413.30 121.45) scale(0.9 1)" font-size="6.33" text-anchor="end" fill="#111">25 mM glucose</text>
<text transform="translate(413.30 127.45) scale(0.9 1)" font-size="6.33" text-anchor="end" fill="#111">35 mM KCl</text>
<text transform="translate(423.80 115.87) scale(0.9 1)" font-size="6.67" text-anchor="middle" fill="#111">+</text>
<text transform="translate(453.80 115.87) scale(0.9 1)" font-size="6.67" text-anchor="middle" fill="#111">−</text>
<text transform="translate(488.50 115.87) scale(0.9 1)" font-size="6.67" text-anchor="middle" fill="#111">−</text>
<text transform="translate(423.80 121.57) scale(0.9 1)" font-size="6.67" text-anchor="middle" fill="#111">−</text>
<text transform="translate(453.80 121.57) scale(0.9 1)" font-size="6.67" text-anchor="middle" fill="#111">+</text>
<text transform="translate(488.50 121.57) scale(0.9 1)" font-size="6.67" text-anchor="middle" fill="#111">−</text>
<text transform="translate(423.80 127.57) scale(0.9 1)" font-size="6.67" text-anchor="middle" fill="#111">−</text>
<text transform="translate(453.80 127.57) scale(0.9 1)" font-size="6.67" text-anchor="middle" fill="#111">−</text>
<text transform="translate(488.50 127.57) scale(0.9 1)" font-size="6.67" text-anchor="middle" fill="#111">+</text>
<line x1="440.50" y1="94.50" x2="440.50" y2="129.90" stroke="#222" stroke-width="0.7"/>
<line x1="472.20" y1="94.50" x2="472.20" y2="129.90" stroke="#222" stroke-width="0.7"/>
<path d="M417.00 54.80V53.00H434.00V54.80" fill="none" stroke="#333" stroke-width="0.6"/>
<text transform="translate(425.50 51.70) scale(0.9 1)" font-size="4.78" text-anchor="middle" fill="#111"><tspan font-style="italic">p</tspan> = 0.0003</text>
<path d="M417.00 64.80V63.00H425.00V64.80" fill="none" stroke="#333" stroke-width="0.6"/>
<text transform="translate(415.50 60.70) scale(0.9 1)" font-size="4.78" text-anchor="start" fill="#111"><tspan font-style="italic">p</tspan> &lt; 0.0001</text>
<path d="M431.00 71.80V70.00H439.50V71.80" fill="none" stroke="#333" stroke-width="0.6"/>
<text transform="translate(426.00 67.70) scale(0.9 1)" font-size="4.78" text-anchor="start" fill="#111"><tspan font-style="italic">p</tspan> &lt; 0.0001</text>
<path d="M443.60 25.30V23.50H463.40V25.30" fill="none" stroke="#333" stroke-width="0.6"/>
<text transform="translate(453.50 21.60) scale(0.9 1)" font-size="4.78" text-anchor="middle" fill="#111"><tspan font-style="italic">p</tspan> &lt; 0.0001</text>
<path d="M443.60 34.30V32.50H456.20V34.30" fill="none" stroke="#333" stroke-width="0.6"/>
<text transform="translate(441.50 30.60) scale(0.9 1)" font-size="4.78" text-anchor="start" fill="#111"><tspan font-style="italic">p</tspan> &lt; 0.0001</text>
<path d="M458.00 50.50V48.70H469.70V50.50" fill="none" stroke="#333" stroke-width="0.6"/>
<text transform="translate(458.00 46.80) scale(0.9 1)" font-size="4.78" text-anchor="start" fill="#111"><tspan font-style="italic">p</tspan> &lt; 0.0001</text>
<path d="M479.20 28.90V27.10H495.40V28.90" fill="none" stroke="#333" stroke-width="0.6"/>
<text transform="translate(487.30 25.20) scale(0.9 1)" font-size="4.78" text-anchor="middle" fill="#111"><tspan font-style="italic">p</tspan> &lt; 0.0001</text>
<path d="M478.20 37.90V36.10H486.50V37.90" fill="none" stroke="#333" stroke-width="0.6"/>
<text transform="translate(476.50 34.20) scale(0.9 1)" font-size="4.78" text-anchor="start" fill="#111"><tspan font-style="italic">p</tspan> &lt; 0.0001</text>
<path d="M489.00 50.50V48.70H499.40V50.50" fill="none" stroke="#333" stroke-width="0.6"/>
<text transform="translate(489.00 46.80) scale(0.9 1)" font-size="4.78" text-anchor="start" fill="#111"><tspan font-style="italic">p</tspan> &lt; 0.0001</text>
<text x="375.80" y="62.16" font-size="7.5" text-anchor="middle" fill="#111" transform="rotate(-90 375.80 59.50)">Insulin secretion</text>
<text x="384.40" y="62.16" font-size="7.5" text-anchor="middle" fill="#111" transform="rotate(-90 384.40 59.50)">(µIU/mg protein)</text>
<text x="516.4" y="10.5" font-size="14.5" font-weight="bold" fill="#000" stroke="#000" stroke-width="0.45">e</text>
<rect x="518.00" y="13.80" width="45.70" height="44.00" fill="#7d7d7d" stroke="none" stroke-width="0.6"/>
<rect x="518" y="13.8" width="45.7" height="44" filter="url(#nz)"/>
<circle cx="533.50" cy="21.83" r="0.6362181433337714" fill="#d8d8d8" stroke="none" stroke-width="0"/>
<circle cx="542.35" cy="30.43" r="0.7029742932757681" fill="#303030" stroke="none" stroke-width="0"/>
<circle cx="521.56" cy="33.15" r="0.536285205337546" fill="#303030" stroke="none" stroke-width="0"/>
<circle cx="537.70" cy="48.87" r="0.5892955858428058" fill="#303030" stroke="none" stroke-width="0"/>
<circle cx="546.16" cy="53.71" r="0.7983402373253901" fill="#d8d8d8" stroke="none" stroke-width="0"/>
<circle cx="560.71" cy="17.66" r="0.7448046431658382" fill="#d8d8d8" stroke="none" stroke-width="0"/>
<rect x="557.70" y="54.60" width="3.80" height="1.00" fill="#eee" stroke="none" stroke-width="0.6"/>
<rect x="565.00" y="13.80" width="46.70" height="44.00" fill="#7d7d7d" stroke="none" stroke-width="0.6"/>
<rect x="565" y="13.8" width="46.7" height="44" filter="url(#nz)"/>
<circle cx="573.16" cy="20.51" r="0.8264505436480125" fill="#303030" stroke="none" stroke-width="0"/>
<circle cx="574.72" cy="39.06" r="0.7861987713628655" fill="#d8d8d8" stroke="none" stroke-width="0"/>
<circle cx="590.39" cy="18.31" r="0.5823834851277306" fill="#303030" stroke="none" stroke-width="0"/>
<circle cx="596.05" cy="32.90" r="0.7342247454030555" fill="#303030" stroke="none" stroke-width="0"/>
<circle cx="586.35" cy="27.79" r="0.9494972168647856" fill="#d8d8d8" stroke="none" stroke-width="0"/>
<circle cx="577.42" cy="38.78" r="1.0375687477867144" fill="#d8d8d8" stroke="none" stroke-width="0"/>
<circle cx="598.15" cy="27.32" r="0.659032889127481" fill="#d8d8d8" stroke="none" stroke-width="0"/>
<circle cx="584.85" cy="46.09" r="0.6955852401903222" fill="#303030" stroke="none" stroke-width="0"/>
<circle cx="568.67" cy="42.53" r="0.886512970138692" fill="#d8d8d8" stroke="none" stroke-width="0"/>
<circle cx="604.38" cy="28.35" r="0.8971849385525092" fill="#d8d8d8" stroke="none" stroke-width="0"/>
<rect x="605.70" y="54.60" width="3.80" height="1.00" fill="#eee" stroke="none" stroke-width="0.6"/>
<rect x="613.00" y="13.60" width="46.20" height="44.20" fill="#7a7a7a" stroke="none" stroke-width="0.6"/>
<rect x="613" y="13.6" width="46.2" height="44.2" filter="url(#nz)"/>
<circle cx="639.47" cy="33.94" r="0.8359871122050166" fill="#303030" stroke="none" stroke-width="0"/>
<circle cx="654.87" cy="34.66" r="0.7656608821898698" fill="#303030" stroke="none" stroke-width="0"/>
<circle cx="617.56" cy="43.80" r="0.7588515418110675" fill="#303030" stroke="none" stroke-width="0"/>
<circle cx="656.91" cy="48.64" r="0.6138382128376597" fill="#303030" stroke="none" stroke-width="0"/>
<circle cx="631.28" cy="42.48" r="0.5090251712222355" fill="#303030" stroke="none" stroke-width="0"/>
<circle cx="634.48" cy="22.36" r="0.5468383177926928" fill="#303030" stroke="none" stroke-width="0"/>
<circle cx="617.49" cy="46.48" r="0.5517360888074737" fill="#303030" stroke="none" stroke-width="0"/>
<circle cx="625.45" cy="31.32" r="0.8485687896505199" fill="#303030" stroke="none" stroke-width="0"/>
<circle cx="618.40" cy="33.66" r="0.719775963657615" fill="#303030" stroke="none" stroke-width="0"/>
<circle cx="652.28" cy="48.54" r="0.8455937878794061" fill="#303030" stroke="none" stroke-width="0"/>
<circle cx="626.75" cy="32.29" r="0.6435084661326499" fill="#303030" stroke="none" stroke-width="0"/>
<circle cx="652.31" cy="54.10" r="0.5603683623164436" fill="#303030" stroke="none" stroke-width="0"/>
<circle cx="622.44" cy="24.92" r="0.5933344334723445" fill="#303030" stroke="none" stroke-width="0"/>
<circle cx="635.47" cy="39.28" r="0.6050986477194151" fill="#303030" stroke="none" stroke-width="0"/>
<circle cx="615.17" cy="32.44" r="0.6477014291578902" fill="#303030" stroke="none" stroke-width="0"/>
<circle cx="638.90" cy="53.91" r="0.7761974628543912" fill="#303030" stroke="none" stroke-width="0"/>
<circle cx="636.75" cy="40.43" r="0.7704800329798005" fill="#303030" stroke="none" stroke-width="0"/>
<circle cx="617.28" cy="51.76" r="0.8119877962824291" fill="#303030" stroke="none" stroke-width="0"/>
<circle cx="651.90" cy="47.67" r="0.6569515627565075" fill="#303030" stroke="none" stroke-width="0"/>
<circle cx="631.84" cy="19.76" r="0.7537158262742836" fill="#303030" stroke="none" stroke-width="0"/>
<circle cx="617.63" cy="18.31" r="0.5835052741784658" fill="#303030" stroke="none" stroke-width="0"/>
<circle cx="621.85" cy="29.27" r="0.5210302415561068" fill="#303030" stroke="none" stroke-width="0"/>
<rect x="653.20" y="54.60" width="3.80" height="1.00" fill="#eee" stroke="none" stroke-width="0.6"/>
<rect x="518.00" y="57.70" width="141.20" height="1.50" fill="#111" stroke="none" stroke-width="0.6"/>
<circle cx="630.50" cy="21.50" r="0.9" fill="#e00000" stroke="none" stroke-width="0"/>
<line x1="631.50" y1="21.50" x2="634.00" y2="22.20" stroke="#e00000" stroke-width="0.4"/>
<text transform="translate(635.00 24.33) scale(0.9 1)" font-size="2.89" text-anchor="start" fill="#e00000">Granule</text>
<circle cx="642.80" cy="28.80" r="1.6" fill="#e8e8e8" stroke="none" stroke-width="0"/>
<text transform="translate(541.80 11.33) scale(0.9 1)" font-size="6.00" text-anchor="middle" fill="#111">control</text>
<text transform="translate(588.30 11.33) scale(0.9 1)" font-size="6.00" text-anchor="middle" fill="#111" font-style="italic">Len-miR-802</text>
<text transform="translate(635.60 11.33) scale(0.9 1)" font-size="6.00" text-anchor="middle" fill="#111" font-style="italic">Len-Anti-miR-802</text>
<text transform="translate(538.70 67.92) scale(0.9 1)" font-size="7.67" text-anchor="middle" fill="#111">control</text>
<text transform="translate(586.70 67.92) scale(0.9 1)" font-size="7.67" text-anchor="middle" fill="#111" font-style="italic">Len-miR-802</text>
<text transform="translate(638.60 67.92) scale(0.9 1)" font-size="7.67" text-anchor="middle" fill="#111" font-style="italic">Len-anti-miR-802</text>
<text transform="translate(567.50 79.06) scale(0.9 1)" font-size="7.78" text-anchor="start" fill="#111">total number of granules</text>
<line x1="581.30" y1="79.60" x2="581.30" y2="137.20" stroke="#111" stroke-width="1.0"/>
<line x1="580.80" y1="136.80" x2="627.70" y2="136.80" stroke="#111" stroke-width="1.0"/>
<line x1="581.30" y1="136.80" x2="581.30" y2="139.70" stroke="#111" stroke-width="0.8"/>
<text x="583.50" y="143.80" font-size="7" text-anchor="end" fill="#111" transform="rotate(-45 583.50 143.80)">0.00</text>
<line x1="590.56" y1="136.80" x2="590.56" y2="139.70" stroke="#111" stroke-width="0.8"/>
<text x="592.76" y="143.80" font-size="7" text-anchor="end" fill="#111" transform="rotate(-45 592.76 143.80)">0.05</text>
<line x1="599.82" y1="136.80" x2="599.82" y2="139.70" stroke="#111" stroke-width="0.8"/>
<text x="602.02" y="143.80" font-size="7" text-anchor="end" fill="#111" transform="rotate(-45 602.02 143.80)">0.10</text>
<line x1="609.08" y1="136.80" x2="609.08" y2="139.70" stroke="#111" stroke-width="0.8"/>
<text x="611.28" y="143.80" font-size="7" text-anchor="end" fill="#111" transform="rotate(-45 611.28 143.80)">0.15</text>
<line x1="618.34" y1="136.80" x2="618.34" y2="139.70" stroke="#111" stroke-width="0.8"/>
<text x="620.54" y="143.80" font-size="7" text-anchor="end" fill="#111" transform="rotate(-45 620.54 143.80)">0.20</text>
<line x1="627.60" y1="136.80" x2="627.60" y2="139.70" stroke="#111" stroke-width="0.8"/>
<text x="629.80" y="143.80" font-size="7" text-anchor="end" fill="#111" transform="rotate(-45 629.80 143.80)">0.25</text>
<rect x="581.30" y="83.10" width="39.10" height="12.30" fill="#d4d4d4" stroke="#111" stroke-width="0.9"/>
<line x1="577.30" y1="89.25" x2="581.30" y2="89.25" stroke="#111" stroke-width="0.9"/>
<rect x="581.30" y="102.40" width="5.80" height="12.30" fill="#d4d4d4" stroke="#111" stroke-width="0.9"/>
<line x1="577.30" y1="108.55" x2="581.30" y2="108.55" stroke="#111" stroke-width="0.9"/>
<rect x="581.30" y="121.70" width="12.30" height="12.30" fill="#d4d4d4" stroke="#111" stroke-width="0.9"/>
<line x1="577.30" y1="127.85" x2="581.30" y2="127.85" stroke="#111" stroke-width="0.9"/>
<text transform="translate(576.40 92.36) scale(0.9 1)" font-size="7.78" text-anchor="end" fill="#111" font-style="italic">Len-anti-miR-802</text>
<text transform="translate(576.40 111.26) scale(0.9 1)" font-size="7.78" text-anchor="end" fill="#111" font-style="italic">Len-miR-802</text>
<text transform="translate(576.40 130.26) scale(0.9 1)" font-size="7.78" text-anchor="end" fill="#111">control</text>
<line x1="620.40" y1="89.30" x2="624.50" y2="89.30" stroke="#111" stroke-width="0.7"/>
<line x1="624.50" y1="87.80" x2="624.50" y2="90.80" stroke="#111" stroke-width="0.7"/>
<circle cx="617.50" cy="86.50" r="1.6" fill="#fff" stroke="#111" stroke-width="1.2"/>
<circle cx="619.50" cy="89.50" r="1.6" fill="#fff" stroke="#111" stroke-width="1.2"/>
<circle cx="617.20" cy="92.00" r="1.6" fill="#fff" stroke="#111" stroke-width="1.2"/>
<circle cx="622.50" cy="89.30" r="1.6" fill="#fff" stroke="#111" stroke-width="1.2"/>
<line x1="587.10" y1="108.50" x2="590.50" y2="108.50" stroke="#111" stroke-width="0.7"/>
<line x1="590.50" y1="107.00" x2="590.50" y2="110.00" stroke="#111" stroke-width="0.7"/>
<circle cx="584.00" cy="106.00" r="1.6" fill="#fff" stroke="#111" stroke-width="1.2"/>
<circle cx="587.80" cy="108.30" r="1.6" fill="#fff" stroke="#111" stroke-width="1.2"/>
<circle cx="584.00" cy="111.00" r="1.6" fill="#fff" stroke="#111" stroke-width="1.2"/>
<line x1="593.60" y1="127.80" x2="596.50" y2="127.80" stroke="#111" stroke-width="0.7"/>
<line x1="596.50" y1="126.30" x2="596.50" y2="129.30" stroke="#111" stroke-width="0.7"/>
<circle cx="592.50" cy="125.20" r="1.6" fill="#fff" stroke="#111" stroke-width="1.2"/>
<circle cx="595.00" cy="127.60" r="1.6" fill="#fff" stroke="#111" stroke-width="1.2"/>
<circle cx="591.50" cy="129.80" r="1.6" fill="#fff" stroke="#111" stroke-width="1.2"/>
<circle cx="593.20" cy="131.30" r="1.6" fill="#fff" stroke="#111" stroke-width="1.2"/>
<path d="M603.20 108.20H605.00V127.00H603.20" fill="none" stroke="#666" stroke-width="0.6"/>
<path d="M627.20 87.50H629.00V127.80H627.20" fill="none" stroke="#666" stroke-width="0.6"/>
<text x="614.60" y="119.56" font-size="5.8" text-anchor="middle" fill="#111" transform="rotate(-90 614.60 117.50)"><tspan font-style="italic">p</tspan> = 0.0441</text>
<text x="634.80" y="109.56" font-size="5.8" text-anchor="middle" fill="#111" transform="rotate(-90 634.80 107.50)"><tspan font-style="italic">p</tspan> = 0.0006</text>
<text transform="translate(603.40 165.54) scale(0.9 1)" font-size="8.00" text-anchor="middle" fill="#111">granules/µm<tspan font-size="4.5" dy="-2.5">2</tspan></text>
<text x="1.0" y="166.5" font-size="14" font-weight="bold" fill="#000" stroke="#000" stroke-width="0.45">f</text>
<rect x="37.10" y="177.20" width="61.90" height="10.50" fill="#ededed" stroke="#666" stroke-width="0.7"/>
<g filter="url(#bl2)">
<ellipse cx="45.50" cy="183.00" rx="4.6" ry="1.2" fill="#111"/>
<ellipse cx="61.30" cy="183.00" rx="5.8" ry="2.8" fill="#000"/>
<ellipse cx="76.20" cy="183.10" rx="4.4" ry="1.3" fill="#111"/>
<ellipse cx="93.90" cy="183.40" rx="3.5" ry="1.0" fill="#aaa"/>
</g>
<rect x="37.10" y="189.40" width="61.90" height="10.50" fill="#747474" stroke="#444" stroke-width="0.7"/>
<g filter="url(#bl2)">
<ellipse cx="45.50" cy="193.90" rx="6" ry="1.4" fill="#151515"/>
<ellipse cx="61.30" cy="193.80" rx="6.5" ry="2.6" fill="#050505"/>
<ellipse cx="76.20" cy="194.10" rx="5.5" ry="1.6" fill="#151515"/>
<ellipse cx="92.90" cy="195.80" rx="5" ry="1.2" fill="#333"/>
</g>
<rect x="37.10" y="201.70" width="61.90" height="10.50" fill="#e6e6e6" stroke="#666" stroke-width="0.7"/>
<g filter="url(#bl2)">
<ellipse cx="45.50" cy="208.40" rx="5" ry="1.1" fill="#111"/>
<ellipse cx="61.30" cy="207.90" rx="5.5" ry="1.4" fill="#0a0a0a"/>
<ellipse cx="76.20" cy="207.20" rx="5" ry="1.3" fill="#111"/>
<ellipse cx="92.90" cy="205.80" rx="5.5" ry="1.5" fill="#0a0a0a"/>
</g>
<rect x="37.10" y="214.00" width="61.90" height="7.80" fill="#9a9a9a" stroke="#555" stroke-width="0.7"/>
<g filter="url(#bl2)">
<ellipse cx="44.50" cy="218.00" rx="5.8" ry="2.2" fill="#000"/>
<ellipse cx="61.30" cy="217.60" rx="5.6" ry="2.2" fill="#000"/>
<ellipse cx="76.20" cy="217.60" rx="5.4" ry="2.0" fill="#050505"/>
<ellipse cx="92.90" cy="217.60" rx="5.8" ry="2.0" fill="#000"/>
</g>
<text transform="translate(34.30 184.94) scale(0.9 1)" font-size="7.44" text-anchor="end" fill="#111">Fzd5</text>
<text transform="translate(34.30 196.84) scale(0.9 1)" font-size="7.44" text-anchor="end" fill="#111">P-CamkII</text>
<text transform="translate(34.30 209.34) scale(0.9 1)" font-size="7.44" text-anchor="end" fill="#111">CamkII</text>
<text transform="translate(34.30 220.74) scale(0.9 1)" font-size="7.44" text-anchor="end" fill="#111">GAPDH</text>
<line x1="99.20" y1="182.80" x2="103.00" y2="182.80" stroke="#111" stroke-width="0.7"/>
<text transform="translate(104.30 186.02) scale(0.9 1)" font-size="7.67" text-anchor="start" fill="#111">63</text>
<line x1="99.20" y1="196.60" x2="103.00" y2="196.60" stroke="#111" stroke-width="0.7"/>
<text transform="translate(104.30 199.12) scale(0.9 1)" font-size="7.67" text-anchor="start" fill="#111">50</text>
<line x1="99.20" y1="206.70" x2="103.00" y2="206.70" stroke="#111" stroke-width="0.7"/>
<text transform="translate(104.30 209.72) scale(0.9 1)" font-size="7.67" text-anchor="start" fill="#111">50</text>
<line x1="99.20" y1="218.30" x2="103.00" y2="218.30" stroke="#111" stroke-width="0.7"/>
<text transform="translate(104.30 221.62) scale(0.9 1)" font-size="7.67" text-anchor="start" fill="#111">37</text>
<line x1="38.10" y1="232.40" x2="38.10" y2="300.50" stroke="#111" stroke-width="1.0"/>
<line x1="35.10" y1="300.50" x2="38.10" y2="300.50" stroke="#111" stroke-width="1.0"/>
<text transform="translate(32.70 303.10) scale(0.9 1)" font-size="7.33" text-anchor="end" fill="#111">0.0</text>
<line x1="35.10" y1="283.48" x2="38.10" y2="283.48" stroke="#111" stroke-width="1.0"/>
<text transform="translate(32.70 286.08) scale(0.9 1)" font-size="7.33" text-anchor="end" fill="#111">0.5</text>
<line x1="35.10" y1="266.45" x2="38.10" y2="266.45" stroke="#111" stroke-width="1.0"/>
<text transform="translate(32.70 269.05) scale(0.9 1)" font-size="7.33" text-anchor="end" fill="#111">1.0</text>
<line x1="35.10" y1="249.43" x2="38.10" y2="249.43" stroke="#111" stroke-width="1.0"/>
<text transform="translate(32.70 252.03) scale(0.9 1)" font-size="7.33" text-anchor="end" fill="#111">1.5</text>
<line x1="35.10" y1="232.40" x2="38.10" y2="232.40" stroke="#111" stroke-width="1.0"/>
<text transform="translate(32.70 235.00) scale(0.9 1)" font-size="7.33" text-anchor="end" fill="#111">2.0</text>
<line x1="35.10" y1="300.50" x2="98.80" y2="300.50" stroke="#111" stroke-width="1.1"/>
<rect x="41.35" y="258.96" width="8.90" height="41.54" fill="#d4d4d4" stroke="#111" stroke-width="1.1"/>
<line x1="45.80" y1="300.50" x2="45.80" y2="302.90" stroke="#111" stroke-width="0.9"/>
<rect x="56.55" y="245.00" width="8.90" height="55.50" fill="#d4d4d4" stroke="#111" stroke-width="1.1"/>
<line x1="61.00" y1="300.50" x2="61.00" y2="302.90" stroke="#111" stroke-width="0.9"/>
<rect x="71.45" y="264.07" width="8.90" height="36.43" fill="#d4d4d4" stroke="#111" stroke-width="1.1"/>
<line x1="75.90" y1="300.50" x2="75.90" y2="302.90" stroke="#111" stroke-width="0.9"/>
<rect x="86.85" y="276.67" width="8.90" height="23.83" fill="#d4d4d4" stroke="#111" stroke-width="1.1"/>
<line x1="91.30" y1="300.50" x2="91.30" y2="302.90" stroke="#111" stroke-width="0.9"/>
<line x1="45.80" y1="253.85" x2="45.80" y2="258.96" stroke="#111" stroke-width="0.7"/>
<line x1="44.30" y1="253.85" x2="47.30" y2="253.85" stroke="#111" stroke-width="0.7"/>
<line x1="75.90" y1="257.94" x2="75.90" y2="264.07" stroke="#111" stroke-width="0.7"/>
<line x1="74.40" y1="257.94" x2="77.40" y2="257.94" stroke="#111" stroke-width="0.7"/>
<line x1="61.00" y1="243.98" x2="61.00" y2="245.00" stroke="#111" stroke-width="0.7"/>
<line x1="59.50" y1="243.98" x2="62.50" y2="243.98" stroke="#111" stroke-width="0.7"/>
<circle cx="45.80" cy="253.85" r="1.6" fill="#fff" stroke="#111" stroke-width="1.2"/>
<circle cx="43.80" cy="260.32" r="1.6" fill="#fff" stroke="#111" stroke-width="1.2"/>
<circle cx="47.80" cy="259.64" r="1.6" fill="#fff" stroke="#111" stroke-width="1.2"/>
<circle cx="59.00" cy="245.00" r="1.6" fill="#fff" stroke="#111" stroke-width="1.2"/>
<circle cx="61.00" cy="244.66" r="1.6" fill="#fff" stroke="#111" stroke-width="1.2"/>
<circle cx="63.00" cy="245.34" r="1.6" fill="#fff" stroke="#111" stroke-width="1.2"/>
<circle cx="75.40" cy="257.94" r="1.6" fill="#fff" stroke="#111" stroke-width="1.2"/>
<circle cx="73.90" cy="264.41" r="1.6" fill="#fff" stroke="#111" stroke-width="1.2"/>
<circle cx="76.40" cy="267.13" r="1.6" fill="#fff" stroke="#111" stroke-width="1.2"/>
<circle cx="89.30" cy="276.67" r="1.6" fill="#fff" stroke="#111" stroke-width="1.2"/>
<circle cx="91.50" cy="276.32" r="1.6" fill="#fff" stroke="#111" stroke-width="1.2"/>
<circle cx="93.50" cy="277.01" r="1.6" fill="#fff" stroke="#111" stroke-width="1.2"/>
<path d="M40.10 240.60V238.60H65.00V240.60" fill="none" stroke="#333" stroke-width="0.6"/>
<text transform="translate(41.00 235.09) scale(0.9 1)" font-size="5.89" text-anchor="start" fill="#111"><tspan font-style="italic">p</tspan> = 0.0022</text>
<path d="M75.50 254.30V252.30H94.70V254.30" fill="none" stroke="#333" stroke-width="0.6"/>
<text transform="translate(74.00 250.39) scale(0.9 1)" font-size="5.89" text-anchor="start" fill="#111"><tspan font-style="italic">p</tspan> = 0.0028</text>
<text x="5.90" y="270.91" font-size="6.8" text-anchor="middle" fill="#111" transform="rotate(-90 5.90 268.50)">Relative protein expression</text>
<text x="15.40" y="270.91" font-size="6.8" text-anchor="middle" fill="#111" transform="rotate(-90 15.40 268.50)">(P-CamkII/CamkII)</text>
<text x="49.40" y="310.10" font-size="7" text-anchor="end" fill="#111" transform="rotate(-45 49.40 310.10)">control</text>
<text x="64.60" y="310.10" font-size="7" text-anchor="end" fill="#111" transform="rotate(-45 64.60 310.10)">over-<tspan font-style="italic">Fzd5</tspan></text>
<text x="79.50" y="310.10" font-size="7" text-anchor="end" fill="#111" transform="rotate(-45 79.50 310.10)">si NC</text>
<text x="94.90" y="310.10" font-size="7" text-anchor="end" fill="#111" transform="rotate(-45 94.90 310.10)">si-<tspan font-style="italic">Fzd5</tspan></text>
<text x="130.3" y="162.3" font-size="14" font-weight="bold" fill="#000" stroke="#000" stroke-width="0.45">g</text>
<defs><linearGradient id="sg" x1="0" y1="1" x2="1" y2="0"><stop offset="0" stop-color="#555"/><stop offset="0.5" stop-color="#aaa"/><stop offset="1" stop-color="#f4f4f4"/></linearGradient></defs>
<g filter="url(#bl)" opacity="0.2"><path d="M143 212 L156 199 L187 190 L187 207 L150 212 Z" fill="url(#sg)"/></g>
<g filter="url(#bl)" opacity="0.45"><path d="M144 212 L165 207 L187 203.5 L187 207.5 L150 212 Z" fill="#555"/></g>
<rect x="142.10" y="173.30" width="45.50" height="39.20" fill="none" stroke="#7b7bff" stroke-width="0.7"/>
<line x1="140.60" y1="173.30" x2="142.10" y2="173.30" stroke="#7b7bff" stroke-width="0.4"/>
<line x1="140.60" y1="186.40" x2="142.10" y2="186.40" stroke="#7b7bff" stroke-width="0.4"/>
<line x1="140.60" y1="199.50" x2="142.10" y2="199.50" stroke="#7b7bff" stroke-width="0.4"/>
<line x1="140.60" y1="212.50" x2="142.10" y2="212.50" stroke="#7b7bff" stroke-width="0.4"/>
<path d="M153 211.6 L157.2 206.2 L186.6 194.3 L186.6 209 L153 211.6 Z" fill="none" stroke="#e01010" stroke-width="1.0" stroke-dasharray="1.6 1.0"/>
<text transform="translate(168.40 194.71) scale(0.9 1)" font-size="6.22" text-anchor="start" fill="#111">52.5%</text>
<text transform="translate(141.80 224.04) scale(0.9 1)" font-size="4.89" text-anchor="start" fill="#111">FSC-A</text>
<text x="134.20" y="179.56" font-size="4.4" text-anchor="middle" fill="#111" transform="rotate(-90 134.20 178.00)">SSC-A</text>
<text transform="translate(143.00 216.21) scale(0.9 1)" font-size="2.00" text-anchor="middle" fill="#444">0</text>
<text transform="translate(154.00 216.21) scale(0.9 1)" font-size="2.00" text-anchor="middle" fill="#444">2,600,000</text>
<text transform="translate(166.00 216.21) scale(0.9 1)" font-size="2.00" text-anchor="middle" fill="#444">5,200,000</text>
<text transform="translate(181.00 216.21) scale(0.9 1)" font-size="2.00" text-anchor="middle" fill="#444">8,770,000</text>
<path d="M187.6 201.6 H191.4" fill="none" stroke="#111" stroke-width="0.6"/>
<path d="M190.8 200.3 L193.2 201.6 L190.8 202.9 Z" fill="#111" stroke="none" stroke-width="0.6"/>
<line x1="193.80" y1="174.50" x2="193.80" y2="224.50" stroke="#222" stroke-width="0.8"/>
<line x1="193.80" y1="224.50" x2="366.50" y2="224.50" stroke="#222" stroke-width="0.8"/>
<path d="M192.4 175.2 L193.8 172.3 L195.2 175.2 Z" fill="#222" stroke="none" stroke-width="0.6"/>
<path d="M366 223.1 L369 224.5 L366 225.9 Z" fill="#222" stroke="none" stroke-width="0.6"/>
<text x="191.10" y="221.22" font-size="4.0" text-anchor="middle" fill="#111" transform="rotate(-90 191.10 219.80)">Count</text>
<text transform="translate(205.40 233.68) scale(0.9 1)" font-size="8.67" text-anchor="middle" fill="#111">FITC</text>
<path d="M221.7 217.0 C223.3 215.0 224.8 188.0 226.1 180.0 C227.3 187.0 228.5 206.0 230.1 213.0 C231.5 215.5 234.3 216.4 240.3 217.0 Z" fill="#000" stroke="#000" stroke-width="0.3"/>
<rect x="199.10" y="173.10" width="51.20" height="44.50" fill="none" stroke="#7b7bff" stroke-width="0.7"/>
<line x1="199.60" y1="217.00" x2="249.80" y2="217.00" stroke="#3030d0" stroke-width="0.9" stroke-dasharray="1.5 1.2"/>
<line x1="197.50" y1="173.10" x2="199.10" y2="173.10" stroke="#555" stroke-width="0.4"/>
<line x1="197.50" y1="195.35" x2="199.10" y2="195.35" stroke="#555" stroke-width="0.4"/>
<line x1="197.50" y1="217.60" x2="199.10" y2="217.60" stroke="#555" stroke-width="0.4"/>
<text x="195.90" y="175.67" font-size="1.6" text-anchor="middle" fill="#555" transform="rotate(-90 195.90 175.10)">250</text>
<text x="195.90" y="195.92" font-size="1.6" text-anchor="middle" fill="#555" transform="rotate(-90 195.90 195.35)">150</text>
<text transform="translate(202.10 221.59) scale(0.9 1)" font-size="2.22" text-anchor="middle" fill="#555">10<tspan font-size="1.3" dy="-0.8">1</tspan></text>
<text transform="translate(209.63 221.59) scale(0.9 1)" font-size="2.22" text-anchor="middle" fill="#555">10<tspan font-size="1.3" dy="-0.8">2</tspan></text>
<text transform="translate(217.17 221.59) scale(0.9 1)" font-size="2.22" text-anchor="middle" fill="#555">10<tspan font-size="1.3" dy="-0.8">3</tspan></text>
<text transform="translate(224.70 221.59) scale(0.9 1)" font-size="2.22" text-anchor="middle" fill="#555">10<tspan font-size="1.3" dy="-0.8">4</tspan></text>
<text transform="translate(232.23 221.59) scale(0.9 1)" font-size="2.22" text-anchor="middle" fill="#555">10<tspan font-size="1.3" dy="-0.8">5</tspan></text>
<text transform="translate(239.77 221.59) scale(0.9 1)" font-size="2.22" text-anchor="middle" fill="#555">10<tspan font-size="1.3" dy="-0.8">6</tspan></text>
<text transform="translate(247.30 221.59) scale(0.9 1)" font-size="2.22" text-anchor="middle" fill="#555">10<tspan font-size="1.3" dy="-0.8">7</tspan></text>
<text transform="translate(223.90 171.07) scale(0.9 1)" font-size="6.67" text-anchor="middle" fill="#111">control</text>
<text transform="translate(230.30 194.30) scale(0.9 1)" font-size="4.78" text-anchor="start" fill="#222">37.2</text>
<line x1="227.40" y1="195.50" x2="242.30" y2="195.50" stroke="#e02020" stroke-width="0.6" stroke-dasharray="0.8 0.8"/>
<line x1="242.30" y1="194.30" x2="242.30" y2="196.70" stroke="#e02020" stroke-width="0.6"/>
<path d="M278.9 217.1 C280.5 215.1 282.0 185.7 283.3 177.7 C284.5 184.7 285.7 206.1 287.3 213.1 C288.7 215.6 291.5 216.5 297.5 217.1 Z" fill="#000" stroke="#000" stroke-width="0.3"/>
<rect x="258.30" y="174.00" width="50.40" height="43.70" fill="none" stroke="#7b7bff" stroke-width="0.7"/>
<line x1="258.80" y1="217.10" x2="308.20" y2="217.10" stroke="#3030d0" stroke-width="0.9" stroke-dasharray="1.5 1.2"/>
<line x1="256.70" y1="174.00" x2="258.30" y2="174.00" stroke="#555" stroke-width="0.4"/>
<line x1="256.70" y1="195.85" x2="258.30" y2="195.85" stroke="#555" stroke-width="0.4"/>
<line x1="256.70" y1="217.70" x2="258.30" y2="217.70" stroke="#555" stroke-width="0.4"/>
<text x="255.10" y="176.57" font-size="1.6" text-anchor="middle" fill="#555" transform="rotate(-90 255.10 176.00)">250</text>
<text x="255.10" y="196.42" font-size="1.6" text-anchor="middle" fill="#555" transform="rotate(-90 255.10 195.85)">150</text>
<text transform="translate(261.30 221.69) scale(0.9 1)" font-size="2.22" text-anchor="middle" fill="#555">10<tspan font-size="1.3" dy="-0.8">1</tspan></text>
<text transform="translate(268.70 221.69) scale(0.9 1)" font-size="2.22" text-anchor="middle" fill="#555">10<tspan font-size="1.3" dy="-0.8">2</tspan></text>
<text transform="translate(276.10 221.69) scale(0.9 1)" font-size="2.22" text-anchor="middle" fill="#555">10<tspan font-size="1.3" dy="-0.8">3</tspan></text>
<text transform="translate(283.50 221.69) scale(0.9 1)" font-size="2.22" text-anchor="middle" fill="#555">10<tspan font-size="1.3" dy="-0.8">4</tspan></text>
<text transform="translate(290.90 221.69) scale(0.9 1)" font-size="2.22" text-anchor="middle" fill="#555">10<tspan font-size="1.3" dy="-0.8">5</tspan></text>
<text transform="translate(298.30 221.69) scale(0.9 1)" font-size="2.22" text-anchor="middle" fill="#555">10<tspan font-size="1.3" dy="-0.8">6</tspan></text>
<text transform="translate(305.70 221.69) scale(0.9 1)" font-size="2.22" text-anchor="middle" fill="#555">10<tspan font-size="1.3" dy="-0.8">7</tspan></text>
<text transform="translate(282.80 171.07) scale(0.9 1)" font-size="6.67" text-anchor="middle" fill="#111" font-style="italic">Len-miR-802</text>
<text transform="translate(289.20 194.30) scale(0.9 1)" font-size="4.78" text-anchor="start" fill="#222">13.1</text>
<line x1="285.00" y1="195.50" x2="301.00" y2="195.50" stroke="#e02020" stroke-width="0.6" stroke-dasharray="0.8 0.8"/>
<line x1="301.00" y1="194.30" x2="301.00" y2="196.70" stroke="#e02020" stroke-width="0.6"/>
<path d="M336.3 217.1 C337.9 215.1 339.4 191.8 340.7 183.8 C341.9 190.8 343.1 206.1 344.7 213.1 C346.1 215.6 348.9 216.5 354.9 217.1 Z" fill="#000" stroke="#000" stroke-width="0.3"/>
<rect x="315.30" y="174.00" width="47.50" height="43.70" fill="none" stroke="#7b7bff" stroke-width="0.7"/>
<line x1="315.80" y1="217.10" x2="362.30" y2="217.10" stroke="#3030d0" stroke-width="0.9" stroke-dasharray="1.5 1.2"/>
<line x1="313.70" y1="174.00" x2="315.30" y2="174.00" stroke="#555" stroke-width="0.4"/>
<line x1="313.70" y1="195.85" x2="315.30" y2="195.85" stroke="#555" stroke-width="0.4"/>
<line x1="313.70" y1="217.70" x2="315.30" y2="217.70" stroke="#555" stroke-width="0.4"/>
<text x="312.10" y="176.57" font-size="1.6" text-anchor="middle" fill="#555" transform="rotate(-90 312.10 176.00)">250</text>
<text x="312.10" y="196.42" font-size="1.6" text-anchor="middle" fill="#555" transform="rotate(-90 312.10 195.85)">150</text>
<text transform="translate(318.30 221.69) scale(0.9 1)" font-size="2.22" text-anchor="middle" fill="#555">10<tspan font-size="1.3" dy="-0.8">1</tspan></text>
<text transform="translate(325.22 221.69) scale(0.9 1)" font-size="2.22" text-anchor="middle" fill="#555">10<tspan font-size="1.3" dy="-0.8">2</tspan></text>
<text transform="translate(332.13 221.69) scale(0.9 1)" font-size="2.22" text-anchor="middle" fill="#555">10<tspan font-size="1.3" dy="-0.8">3</tspan></text>
<text transform="translate(339.05 221.69) scale(0.9 1)" font-size="2.22" text-anchor="middle" fill="#555">10<tspan font-size="1.3" dy="-0.8">4</tspan></text>
<text transform="translate(345.97 221.69) scale(0.9 1)" font-size="2.22" text-anchor="middle" fill="#555">10<tspan font-size="1.3" dy="-0.8">5</tspan></text>
<text transform="translate(352.88 221.69) scale(0.9 1)" font-size="2.22" text-anchor="middle" fill="#555">10<tspan font-size="1.3" dy="-0.8">6</tspan></text>
<text transform="translate(359.80 221.69) scale(0.9 1)" font-size="2.22" text-anchor="middle" fill="#555">10<tspan font-size="1.3" dy="-0.8">7</tspan></text>
<text transform="translate(339.80 171.07) scale(0.9 1)" font-size="6.67" text-anchor="middle" fill="#111" font-style="italic">Len-anti-miR-802</text>
<text transform="translate(346.30 194.30) scale(0.9 1)" font-size="4.78" text-anchor="start" fill="#222">50.4</text>
<line x1="342.50" y1="195.50" x2="357.00" y2="195.50" stroke="#e02020" stroke-width="0.6" stroke-dasharray="0.8 0.8"/>
<line x1="357.00" y1="194.30" x2="357.00" y2="196.70" stroke="#e02020" stroke-width="0.6"/>
<line x1="399.60" y1="165.40" x2="399.60" y2="221.40" stroke="#111" stroke-width="1.0"/>
<line x1="396.60" y1="221.40" x2="399.60" y2="221.40" stroke="#111" stroke-width="1.0"/>
<text transform="translate(394.20 224.00) scale(0.9 1)" font-size="7.33" text-anchor="end" fill="#111">0</text>
<line x1="396.60" y1="202.73" x2="399.60" y2="202.73" stroke="#111" stroke-width="1.0"/>
<text transform="translate(394.20 205.33) scale(0.9 1)" font-size="7.33" text-anchor="end" fill="#111">20</text>
<line x1="396.60" y1="184.06" x2="399.60" y2="184.06" stroke="#111" stroke-width="1.0"/>
<text transform="translate(394.20 186.66) scale(0.9 1)" font-size="7.33" text-anchor="end" fill="#111">40</text>
<line x1="396.60" y1="165.39" x2="399.60" y2="165.39" stroke="#111" stroke-width="1.0"/>
<text transform="translate(394.20 167.99) scale(0.9 1)" font-size="7.33" text-anchor="end" fill="#111">60</text>
<line x1="399.60" y1="221.40" x2="435.80" y2="221.40" stroke="#111" stroke-width="1.0"/>
<rect x="401.20" y="194.80" width="8.20" height="26.60" fill="#d4d4d4" stroke="#111" stroke-width="1.0"/>
<line x1="405.30" y1="221.40" x2="405.30" y2="223.80" stroke="#111" stroke-width="0.9"/>
<rect x="414.40" y="210.20" width="8.20" height="11.20" fill="#d4d4d4" stroke="#111" stroke-width="1.0"/>
<line x1="418.50" y1="221.40" x2="418.50" y2="223.80" stroke="#111" stroke-width="0.9"/>
<rect x="426.70" y="175.66" width="8.20" height="45.74" fill="#d4d4d4" stroke="#111" stroke-width="1.0"/>
<line x1="430.80" y1="221.40" x2="430.80" y2="223.80" stroke="#111" stroke-width="0.9"/>
<line x1="405.30" y1="191.06" x2="405.30" y2="194.80" stroke="#111" stroke-width="0.7"/>
<line x1="403.80" y1="191.06" x2="406.80" y2="191.06" stroke="#111" stroke-width="0.7"/>
<line x1="418.50" y1="206.46" x2="418.50" y2="210.20" stroke="#111" stroke-width="0.7"/>
<line x1="417.00" y1="206.46" x2="420.00" y2="206.46" stroke="#111" stroke-width="0.7"/>
<line x1="430.80" y1="172.86" x2="430.80" y2="175.66" stroke="#111" stroke-width="0.7"/>
<line x1="429.30" y1="172.86" x2="432.30" y2="172.86" stroke="#111" stroke-width="0.7"/>
<circle cx="405.30" cy="191.53" r="1.6" fill="#fff" stroke="#111" stroke-width="1.2"/>
<circle cx="403.30" cy="195.73" r="1.6" fill="#fff" stroke="#111" stroke-width="1.2"/>
<circle cx="407.30" cy="195.26" r="1.6" fill="#fff" stroke="#111" stroke-width="1.2"/>
<circle cx="418.50" cy="206.93" r="1.6" fill="#fff" stroke="#111" stroke-width="1.2"/>
<circle cx="416.50" cy="211.13" r="1.6" fill="#fff" stroke="#111" stroke-width="1.2"/>
<circle cx="420.30" cy="209.26" r="1.6" fill="#fff" stroke="#111" stroke-width="1.2"/>
<circle cx="429.00" cy="173.32" r="1.6" fill="#fff" stroke="#111" stroke-width="1.2"/>
<circle cx="432.80" cy="176.13" r="1.6" fill="#fff" stroke="#111" stroke-width="1.2"/>
<circle cx="430.80" cy="178.46" r="1.6" fill="#fff" stroke="#111" stroke-width="1.2"/>
<path d="M407.00 170.40V168.60H433.20V170.40" fill="none" stroke="#333" stroke-width="0.6"/>
<text transform="translate(419.40 167.57) scale(0.9 1)" font-size="6.67" text-anchor="middle" fill="#111"><tspan font-style="italic">p</tspan> = 0.0004</text>
<path d="M405.00 189.60V187.80H419.60V189.60" fill="none" stroke="#333" stroke-width="0.6"/>
<text transform="translate(411.80 186.17) scale(0.9 1)" font-size="6.67" text-anchor="middle" fill="#111"><tspan font-style="italic">p</tspan> = 0.001</text>
<text x="379.30" y="196.72" font-size="7.1" text-anchor="middle" fill="#111" transform="rotate(-90 379.30 194.20)">FLUO-3AM AFI</text>
<text x="408.90" y="231.00" font-size="7" text-anchor="end" fill="#111" transform="rotate(-45 408.90 231.00)">control</text>
<text x="422.10" y="231.00" font-size="7" text-anchor="end" fill="#111" transform="rotate(-45 422.10 231.00)">Len-<tspan font-style="italic">miR-802</tspan></text>
<text x="434.40" y="231.00" font-size="7" text-anchor="end" fill="#111" transform="rotate(-45 434.40 231.00)">Len-anti-miR-802</text>
<text x="130.5" y="255.3" font-size="14" font-weight="bold" fill="#000" stroke="#000" stroke-width="0.45">h</text>
<line x1="155.40" y1="270.60" x2="155.40" y2="338.40" stroke="#111" stroke-width="1.0"/>
<line x1="152.40" y1="338.40" x2="155.40" y2="338.40" stroke="#111" stroke-width="1.0"/>
<text transform="translate(150.00 341.00) scale(0.9 1)" font-size="7.33" text-anchor="end" fill="#111">0.9</text>
<line x1="152.40" y1="321.40" x2="155.40" y2="321.40" stroke="#111" stroke-width="1.0"/>
<text transform="translate(150.00 324.00) scale(0.9 1)" font-size="7.33" text-anchor="end" fill="#111">1.0</text>
<line x1="152.40" y1="304.40" x2="155.40" y2="304.40" stroke="#111" stroke-width="1.0"/>
<text transform="translate(150.00 307.00) scale(0.9 1)" font-size="7.33" text-anchor="end" fill="#111">1.1</text>
<line x1="152.40" y1="287.40" x2="155.40" y2="287.40" stroke="#111" stroke-width="1.0"/>
<text transform="translate(150.00 290.00) scale(0.9 1)" font-size="7.33" text-anchor="end" fill="#111">1.2</text>
<line x1="152.40" y1="270.40" x2="155.40" y2="270.40" stroke="#111" stroke-width="1.0"/>
<text transform="translate(150.00 273.00) scale(0.9 1)" font-size="7.33" text-anchor="end" fill="#111">1.3</text>
<line x1="155.40" y1="338.40" x2="225.50" y2="338.40" stroke="#111" stroke-width="1.0"/>
<line x1="155.50" y1="338.40" x2="155.50" y2="340.80" stroke="#111" stroke-width="0.9"/>
<text transform="translate(155.50 348.30) scale(0.9 1)" font-size="7.33" text-anchor="middle" fill="#111">0</text>
<line x1="172.45" y1="338.40" x2="172.45" y2="340.80" stroke="#111" stroke-width="0.9"/>
<text transform="translate(172.45 348.30) scale(0.9 1)" font-size="7.33" text-anchor="middle" fill="#111">500</text>
<line x1="189.40" y1="338.40" x2="189.40" y2="340.80" stroke="#111" stroke-width="0.9"/>
<text transform="translate(189.40 348.30) scale(0.9 1)" font-size="7.33" text-anchor="middle" fill="#111">1000</text>
<line x1="206.35" y1="338.40" x2="206.35" y2="340.80" stroke="#111" stroke-width="0.9"/>
<text transform="translate(206.35 348.30) scale(0.9 1)" font-size="7.33" text-anchor="middle" fill="#111">1500</text>
<line x1="223.30" y1="338.40" x2="223.30" y2="340.80" stroke="#111" stroke-width="0.9"/>
<text transform="translate(223.30 348.30) scale(0.9 1)" font-size="7.33" text-anchor="middle" fill="#111">2000</text>
<text transform="translate(189.60 359.96) scale(0.9 1)" font-size="7.78" text-anchor="middle" fill="#111">Time (s)</text>
<text x="133.20" y="307.43" font-size="7.4" text-anchor="middle" fill="#111" transform="rotate(-90 133.20 304.80)">FLUO-4 AFU</text>
<path d="M155.50 321.30 L156.23 321.47 L156.95 321.56 L157.68 321.88 L158.41 322.19 L159.13 322.32 L159.86 322.68 L160.59 323.40 L161.31 323.57 L162.04 323.94 L162.76 324.60 L163.49 324.69 L164.22 325.07 L164.94 325.08 L165.67 325.14 L165.84 306.16 L166.62 305.78 L167.40 305.56 L168.18 305.15 L168.96 304.59 L169.74 304.50 L170.45 304.51 L171.16 304.37 L171.86 304.81 L172.57 304.95 L173.28 305.05 L173.99 305.18 L174.70 305.74 L175.41 305.78 L176.12 306.04 L176.83 306.21 L177.53 306.19 L178.28 306.27 L179.02 306.06 L179.76 306.22 L180.50 306.08 L181.24 306.27 L181.98 306.25 L182.73 305.94 L183.47 305.95 L184.21 305.99 L184.95 306.29 L185.69 306.07 L186.43 306.15 L187.18 306.02 L187.92 306.10 L188.66 306.05 L189.40 306.04 L190.11 306.12 L190.81 306.08 L191.52 306.15 L192.22 305.98 L192.93 305.99 L193.64 305.84 L194.34 305.77 L195.05 305.51 L195.76 305.16 L196.46 305.29 L197.17 305.17 L197.88 304.99 L198.58 304.69 L199.29 304.59 L199.99 304.24 L200.70 304.34 L201.41 304.10 L202.11 303.86 L202.82 303.66 L203.53 303.88 L204.23 303.86 L204.94 303.44 L205.64 303.68 L206.35 303.51 L207.06 303.38 L207.76 303.37 L208.47 303.44 L209.18 303.32 L209.88 302.80 L210.59 302.80 L211.29 302.32 L212.00 302.32 L212.71 301.87 L213.41 301.78 L214.12 301.51 L214.82 301.00 L215.53 300.88 L216.24 300.29 L216.94 299.89 L217.65 299.81 L218.36 299.31 L219.06 299.13 L219.77 298.99 L220.48 298.87 L221.18 298.53 L221.89 298.37 L222.59 298.62 L223.30 298.45" fill="none" stroke="#1a1ad0" stroke-width="1.5" stroke-linejoin="round"/>
<path d="M155.50 321.29 L156.23 321.30 L156.95 321.59 L157.68 321.76 L158.41 322.07 L159.13 322.60 L159.86 323.24 L160.59 323.65 L161.31 324.08 L162.04 324.30 L162.76 324.82 L163.49 325.06 L164.22 325.28 L164.94 325.43 L165.67 325.65 L165.84 295.79 L166.62 295.54 L167.40 294.24 L168.18 292.72 L168.96 291.45 L169.74 290.68 L170.47 290.80 L171.20 291.12 L171.93 291.47 L172.66 291.90 L173.39 292.35 L174.12 292.51 L174.85 293.21 L175.58 293.72 L176.31 294.09 L177.04 294.35 L177.77 294.77 L178.50 294.81 L179.23 295.22 L179.96 295.22 L180.68 295.16 L181.41 295.17 L182.14 295.55 L182.86 295.57 L183.59 295.87 L184.31 296.04 L185.04 296.08 L185.77 296.22 L186.49 296.45 L187.22 296.52 L187.95 296.52 L188.67 296.65 L189.40 296.88 L190.11 296.55 L190.81 296.50 L191.52 296.65 L192.22 296.41 L192.93 296.38 L193.64 296.21 L194.34 295.99 L195.05 296.07 L195.76 295.55 L196.46 295.44 L197.17 295.14 L197.88 295.10 L198.58 294.75 L199.29 294.57 L199.99 294.52 L200.70 294.16 L201.41 294.07 L202.11 294.04 L202.82 293.57 L203.53 293.43 L204.23 293.39 L204.94 293.52 L205.64 293.41 L206.35 293.24 L207.06 293.25 L207.76 293.10 L208.47 293.08 L209.18 292.73 L209.88 292.76 L210.59 292.58 L211.29 292.31 L212.00 291.90 L212.71 291.65 L213.41 290.92 L214.12 290.66 L214.82 290.56 L215.53 290.11 L216.24 289.60 L216.94 289.46 L217.65 288.99 L218.36 288.75 L219.06 288.25 L219.77 287.94 L220.48 287.82 L221.18 287.51 L221.89 287.47 L222.59 287.61 L223.30 287.40" fill="none" stroke="#b030f0" stroke-width="1.5" stroke-linejoin="round"/>
<path d="M155.50 321.45 L156.23 321.58 L156.95 321.82 L157.68 322.22 L158.41 322.57 L159.13 323.15 L159.86 323.35 L160.59 324.11 L161.31 324.88 L162.04 325.31 L162.76 325.92 L163.49 326.04 L164.22 326.53 L164.94 326.66 L165.67 326.84 L166.01 282.32 L166.75 281.80 L167.50 280.31 L168.25 278.88 L168.99 277.64 L169.74 277.37 L170.47 277.36 L171.20 277.28 L171.93 277.78 L172.66 277.82 L173.39 278.37 L174.12 278.55 L174.85 278.90 L175.58 279.63 L176.31 279.72 L177.04 280.03 L177.77 280.58 L178.50 280.69 L179.23 280.52 L179.96 280.81 L180.68 280.73 L181.41 280.91 L182.14 280.89 L182.86 281.37 L183.59 281.48 L184.31 281.81 L185.04 281.99 L185.77 281.96 L186.49 282.18 L187.22 282.27 L187.95 282.39 L188.67 282.44 L189.40 282.56 L190.11 282.67 L190.81 282.38 L191.52 282.59 L192.22 282.36 L192.93 282.24 L193.64 282.32 L194.34 282.04 L195.05 281.82 L195.76 281.72 L196.46 281.63 L197.17 281.20 L197.88 281.39 L198.58 280.82 L199.29 280.94 L199.99 280.80 L200.70 280.31 L201.41 280.46 L202.11 280.15 L202.82 280.11 L203.53 279.77 L204.23 279.69 L204.94 279.68 L205.64 279.95 L206.35 279.63 L207.06 279.83 L207.76 279.83 L208.47 279.73 L209.18 279.35 L209.88 279.18 L210.59 279.04 L211.29 278.92 L212.00 278.40 L212.71 278.40 L213.41 278.14 L214.12 277.89 L214.82 277.27 L215.53 277.35 L216.24 276.72 L216.94 276.55 L217.65 276.39 L218.36 276.27 L219.06 275.81 L219.77 275.84 L220.48 275.52 L221.18 275.28 L221.89 275.18 L222.59 275.05 L223.30 275.16" fill="none" stroke="#ff2020" stroke-width="1.5" stroke-linejoin="round"/>
<line x1="186.00" y1="253.70" x2="196.80" y2="253.70" stroke="#b030f0" stroke-width="1.8"/>
<text transform="translate(200.50 255.91) scale(0.9 1)" font-size="6.22" text-anchor="start" fill="#111">control</text>
<line x1="186.00" y1="259.20" x2="196.80" y2="259.20" stroke="#1a1ad0" stroke-width="1.8"/>
<text transform="translate(200.50 261.41) scale(0.9 1)" font-size="6.22" text-anchor="start" fill="#111" font-style="italic">len-miR-802</text>
<line x1="186.00" y1="264.50" x2="196.80" y2="264.50" stroke="#ff2020" stroke-width="1.8"/>
<text transform="translate(200.50 266.71) scale(0.9 1)" font-size="6.22" text-anchor="start" fill="#111" font-style="italic">len-anti-miR-802</text>
<text transform="translate(162.00 255.61) scale(0.9 1)" font-size="6.22" text-anchor="middle" fill="#111">High glucose</text>
<line x1="161.30" y1="257.20" x2="166.60" y2="271.60" stroke="#222" stroke-width="0.5"/>
<path d="M164.3 269.5 L166.8 272.3 L167.2 268.6" fill="none" stroke="#222" stroke-width="0.5"/>
<path d="M226.40 273.60H228.20V285.60H226.40" fill="none" stroke="#555" stroke-width="0.6"/>
<text transform="translate(230.50 280.69) scale(0.9 1)" font-size="5.89" text-anchor="start" fill="#111"><tspan font-style="italic">p</tspan> &lt; 0.0001</text>
<path d="M224.00 286.80H225.80V301.20H224.00" fill="none" stroke="#555" stroke-width="0.6"/>
<text transform="translate(228.20 296.29) scale(0.9 1)" font-size="5.89" text-anchor="start" fill="#111"><tspan font-style="italic">p</tspan> &lt; 0.0001</text>
<text x="273.6" y="255.3" font-size="14" font-weight="bold" fill="#000" stroke="#000" stroke-width="0.45">i</text>
<line x1="301.40" y1="270.60" x2="301.40" y2="339.70" stroke="#111" stroke-width="1.0"/>
<line x1="298.40" y1="334.60" x2="301.40" y2="334.60" stroke="#111" stroke-width="1.0"/>
<text transform="translate(296.00 337.20) scale(0.9 1)" font-size="7.33" text-anchor="end" fill="#111">1.0</text>
<line x1="298.40" y1="313.27" x2="301.40" y2="313.27" stroke="#111" stroke-width="1.0"/>
<text transform="translate(296.00 315.87) scale(0.9 1)" font-size="7.33" text-anchor="end" fill="#111">1.5</text>
<line x1="298.40" y1="291.93" x2="301.40" y2="291.93" stroke="#111" stroke-width="1.0"/>
<text transform="translate(296.00 294.53) scale(0.9 1)" font-size="7.33" text-anchor="end" fill="#111">2.0</text>
<line x1="298.40" y1="270.60" x2="301.40" y2="270.60" stroke="#111" stroke-width="1.0"/>
<text transform="translate(296.00 273.20) scale(0.9 1)" font-size="7.33" text-anchor="end" fill="#111">2.5</text>
<line x1="301.40" y1="339.70" x2="371.00" y2="339.70" stroke="#111" stroke-width="1.0"/>
<line x1="301.30" y1="339.70" x2="301.30" y2="342.10" stroke="#111" stroke-width="0.9"/>
<text transform="translate(301.30 349.60) scale(0.9 1)" font-size="7.33" text-anchor="middle" fill="#111">0</text>
<line x1="318.30" y1="339.70" x2="318.30" y2="342.10" stroke="#111" stroke-width="0.9"/>
<text transform="translate(318.30 349.60) scale(0.9 1)" font-size="7.33" text-anchor="middle" fill="#111">500</text>
<line x1="335.30" y1="339.70" x2="335.30" y2="342.10" stroke="#111" stroke-width="0.9"/>
<text transform="translate(335.30 349.60) scale(0.9 1)" font-size="7.33" text-anchor="middle" fill="#111">1000</text>
<line x1="352.30" y1="339.70" x2="352.30" y2="342.10" stroke="#111" stroke-width="0.9"/>
<text transform="translate(352.30 349.60) scale(0.9 1)" font-size="7.33" text-anchor="middle" fill="#111">1500</text>
<line x1="369.30" y1="339.70" x2="369.30" y2="342.10" stroke="#111" stroke-width="0.9"/>
<text transform="translate(369.30 349.60) scale(0.9 1)" font-size="7.33" text-anchor="middle" fill="#111">2000</text>
<text transform="translate(338.00 359.76) scale(0.9 1)" font-size="7.78" text-anchor="middle" fill="#111">Time (s)</text>
<text x="279.20" y="307.63" font-size="7.4" text-anchor="middle" fill="#111" transform="rotate(-90 279.20 305.00)">FLUO-4 AFU</text>
<path d="M301.30 334.86 L302.02 335.30 L302.73 334.80 L303.45 335.15 L304.17 334.78 L304.88 334.88 L305.60 335.33 L306.31 334.85 L307.03 335.11 L307.75 335.00 L308.46 335.00 L309.18 335.02 L309.90 334.84 L310.61 335.23 L311.33 335.03 L311.50 276.57 L312.52 293.82 L313.24 294.18 L313.97 294.78 L314.69 295.95 L315.41 297.21 L316.13 298.68 L316.86 299.39 L317.58 299.96 L318.30 300.32 L319.03 300.72 L319.76 300.04 L320.49 300.18 L321.21 299.80 L321.94 299.69 L322.67 299.19 L323.40 299.09 L324.13 298.65 L324.86 298.44 L325.59 298.31 L326.31 297.88 L327.04 297.43 L327.77 297.26 L328.50 297.74 L329.22 297.45 L329.93 297.21 L330.65 297.57 L331.36 297.23 L332.08 297.18 L332.79 297.10 L333.51 296.56 L334.23 296.41 L334.94 296.52 L335.66 295.88 L336.37 296.05 L337.09 295.46 L337.81 295.64 L338.52 295.48 L339.24 295.48 L339.95 295.29 L340.67 295.00 L341.38 294.76 L342.10 294.71 L342.82 294.94 L343.53 294.94 L344.25 294.70 L344.96 295.22 L345.68 295.02 L346.39 295.18 L347.11 294.94 L347.83 295.01 L348.54 294.93 L349.26 295.19 L349.97 295.21 L350.69 295.37 L351.41 295.42 L352.12 295.77 L352.84 295.89 L353.55 295.54 L354.27 295.75 L354.98 295.70 L355.70 296.08 L356.42 296.35 L357.13 295.97 L357.85 296.39 L358.56 296.20 L359.28 296.10 L359.99 296.63 L360.71 296.45 L361.43 296.42 L362.14 296.65 L362.86 296.59 L363.57 296.75 L364.29 296.83 L365.01 296.86 L365.72 297.00 L366.44 296.86 L367.15 296.77 L367.87 296.78 L368.58 296.81 L369.30 297.05" fill="none" stroke="#ff2020" stroke-width="1.5" stroke-linejoin="round"/>
<path d="M301.30 334.92 L302.02 334.82 L302.73 335.12 L303.45 334.77 L304.17 335.05 L304.88 334.95 L305.60 334.76 L306.31 335.03 L307.03 334.75 L307.75 334.99 L308.46 334.77 L309.18 334.78 L309.90 334.98 L310.61 335.22 L311.33 335.03 L311.50 289.80 L312.52 301.09 L313.24 301.48 L313.97 302.59 L314.69 304.02 L315.41 305.20 L316.13 306.51 L316.86 308.08 L317.58 308.40 L318.30 309.21 L319.03 308.83 L319.76 308.62 L320.49 308.42 L321.21 308.29 L321.94 308.32 L322.67 307.63 L323.40 307.55 L324.13 307.27 L324.86 306.81 L325.59 306.63 L326.31 306.10 L327.04 305.91 L327.77 305.88 L328.50 306.12 L329.22 305.95 L329.93 305.83 L330.65 305.92 L331.36 305.74 L332.08 305.53 L332.79 305.68 L333.51 305.48 L334.23 305.04 L334.94 305.07 L335.66 304.88 L336.37 304.92 L337.09 304.67 L337.81 304.25 L338.52 304.53 L339.24 303.89 L339.95 303.97 L340.67 304.10 L341.38 303.69 L342.10 303.87 L342.82 303.60 L343.53 303.98 L344.25 304.04 L344.96 303.92 L345.68 304.10 L346.39 303.77 L347.11 303.99 L347.83 303.93 L348.54 303.93 L349.26 303.85 L349.97 304.08 L350.69 304.14 L351.41 303.86 L352.12 303.98 L352.84 303.61 L353.55 304.00 L354.27 303.97 L354.98 304.17 L355.70 304.07 L356.42 303.75 L357.13 303.81 L357.85 303.98 L358.56 303.59 L359.28 303.85 L359.99 303.68 L360.71 303.65 L361.43 303.61 L362.14 304.04 L362.86 303.66 L363.57 303.73 L364.29 303.81 L365.01 304.10 L365.72 303.63 L366.44 303.85 L367.15 303.91 L367.87 304.11 L368.58 304.07 L369.30 303.88" fill="none" stroke="#b030f0" stroke-width="1.5" stroke-linejoin="round"/>
<path d="M301.30 335.20 L302.02 335.22 L302.73 335.02 L303.45 334.88 L304.17 334.73 L304.88 335.12 L305.60 335.01 L306.31 335.18 L307.03 334.95 L307.75 335.19 L308.46 334.89 L309.18 335.21 L309.90 335.16 L310.61 334.98 L311.33 335.03 L311.50 303.88 L312.52 309.02 L313.24 309.47 L313.97 310.15 L314.69 311.73 L315.41 313.45 L316.13 314.69 L316.86 316.38 L317.58 317.28 L318.30 317.74 L319.03 317.40 L319.76 317.17 L320.49 317.46 L321.21 317.29 L321.94 316.88 L322.67 316.45 L323.40 316.28 L324.13 316.32 L324.86 315.90 L325.59 316.09 L326.31 315.70 L327.04 315.34 L327.77 315.52 L328.50 315.31 L329.22 315.64 L329.93 315.58 L330.65 315.26 L331.36 315.24 L332.08 315.15 L332.79 315.08 L333.51 315.03 L334.23 314.30 L334.94 314.33 L335.66 314.31 L336.37 313.96 L337.09 313.97 L337.81 313.52 L338.52 313.86 L339.24 313.52 L339.95 313.18 L340.67 313.43 L341.38 313.17 L342.10 313.08 L342.82 313.26 L343.53 313.05 L344.25 313.09 L344.96 313.48 L345.68 313.38 L346.39 312.97 L347.11 313.43 L347.83 312.98 L348.54 313.16 L349.26 313.51 L349.97 313.34 L350.69 313.15 L351.41 313.19 L352.12 313.20 L352.84 313.04 L353.55 313.56 L354.27 313.00 L354.98 313.22 L355.70 313.41 L356.42 313.20 L357.13 313.55 L357.85 313.11 L358.56 313.55 L359.28 313.50 L359.99 313.37 L360.71 313.50 L361.43 313.23 L362.14 313.46 L362.86 313.44 L363.57 313.28 L364.29 313.25 L365.01 313.39 L365.72 313.21 L366.44 313.02 L367.15 313.41 L367.87 313.12 L368.58 313.26 L369.30 313.27" fill="none" stroke="#1a1ad0" stroke-width="1.5" stroke-linejoin="round"/>
<line x1="333.20" y1="273.60" x2="344.00" y2="273.60" stroke="#b030f0" stroke-width="1.8"/>
<text transform="translate(347.70 275.81) scale(0.9 1)" font-size="6.22" text-anchor="start" fill="#111">control</text>
<line x1="333.20" y1="280.10" x2="344.00" y2="280.10" stroke="#1a1ad0" stroke-width="1.8"/>
<text transform="translate(347.70 282.31) scale(0.9 1)" font-size="6.22" text-anchor="start" fill="#111" font-style="italic">len-miR-802</text>
<line x1="333.20" y1="286.80" x2="344.00" y2="286.80" stroke="#ff2020" stroke-width="1.8"/>
<text transform="translate(347.70 289.01) scale(0.9 1)" font-size="6.22" text-anchor="start" fill="#111" font-style="italic">len-anti-miR-802</text>
<text transform="translate(311.40 257.20) scale(0.9 1)" font-size="7.33" text-anchor="middle" fill="#111">KCl</text>
<line x1="311.40" y1="258.00" x2="311.40" y2="272.60" stroke="#222" stroke-width="0.5"/>
<path d="M309.4 269.4 L311.4 273 L313.4 269.4" fill="none" stroke="#222" stroke-width="0.5"/>
<path d="M373.60 297.60H375.40V306.00H373.60" fill="none" stroke="#555" stroke-width="0.6"/>
<text transform="translate(378.60 303.29) scale(0.9 1)" font-size="5.89" text-anchor="start" fill="#111"><tspan font-style="italic">p</tspan> &lt; 0.0001</text>
<path d="M370.20 305.00H372.00V316.00H370.20" fill="none" stroke="#555" stroke-width="0.6"/>
<text transform="translate(376.00 313.69) scale(0.9 1)" font-size="5.89" text-anchor="start" fill="#111"><tspan font-style="italic">p</tspan> &lt; 0.0001</text>
<text x="454.2" y="194.8" font-size="14" font-weight="bold" fill="#000" stroke="#000" stroke-width="0.45">j</text>
<rect x="486.00" y="208.00" width="61.60" height="10.60" fill="#dedede" stroke="#555" stroke-width="0.7"/>
<g filter="url(#bl2)">
<ellipse cx="491.13" cy="212.60" rx="3.5" ry="1.2" fill="#666"/>
<ellipse cx="501.40" cy="212.80" rx="3.2" ry="1.0" fill="#888"/>
<ellipse cx="511.67" cy="212.60" rx="3.8" ry="1.3" fill="#555"/>
<ellipse cx="521.93" cy="213.20" rx="5.0" ry="4.0" fill="#000"/>
<ellipse cx="532.20" cy="213.20" rx="4.2" ry="3.0" fill="#111"/>
<ellipse cx="542.47" cy="213.80" rx="4.2" ry="2.4" fill="#222"/>
</g>
<rect x="486.00" y="220.00" width="61.60" height="8.60" fill="#cfcfcf" stroke="#555" stroke-width="0.7"/>
<g filter="url(#bl2)">
<ellipse cx="491.13" cy="224.20" rx="4.6" ry="2.0" fill="#111"/>
<ellipse cx="501.40" cy="224.00" rx="4.6" ry="2.2" fill="#111"/>
<ellipse cx="511.67" cy="224.40" rx="4.2" ry="1.8" fill="#222"/>
<ellipse cx="521.93" cy="224.20" rx="4.4" ry="2.0" fill="#151515"/>
<ellipse cx="532.20" cy="224.20" rx="4.4" ry="2.0" fill="#151515"/>
<ellipse cx="542.47" cy="225.20" rx="4.8" ry="2.2" fill="#111"/>
</g>
<rect x="486.00" y="230.40" width="61.60" height="10.60" fill="#dadada" stroke="#555" stroke-width="0.7"/>
<g filter="url(#bl2)">
<ellipse cx="491.13" cy="234.20" rx="3.5" ry="1.2" fill="#777"/>
<ellipse cx="501.40" cy="235.50" rx="3.5" ry="1.5" fill="#999"/>
<ellipse cx="511.67" cy="235.50" rx="3.5" ry="1.5" fill="#999"/>
<ellipse cx="521.93" cy="235.80" rx="4.8" ry="3.5" fill="#0a0a0a"/>
<ellipse cx="532.20" cy="235.80" rx="5.2" ry="4.5" fill="#000"/>
<ellipse cx="542.47" cy="235.80" rx="5.0" ry="4.5" fill="#000"/>
</g>
<rect x="486.00" y="242.00" width="61.60" height="10.00" fill="#bcbcbc" stroke="#444" stroke-width="0.7"/>
<g filter="url(#bl2)">
<ellipse cx="491.13" cy="247.40" rx="4.8" ry="1.8" fill="#151515"/>
<ellipse cx="501.40" cy="246.80" rx="5.0" ry="2.4" fill="#111"/>
<ellipse cx="511.67" cy="246.80" rx="4.6" ry="2.0" fill="#151515"/>
<ellipse cx="521.93" cy="246.80" rx="4.6" ry="1.8" fill="#222"/>
<ellipse cx="532.20" cy="246.50" rx="4.6" ry="2.2" fill="#222"/>
<ellipse cx="542.47" cy="247.00" rx="4.6" ry="2.2" fill="#151515"/>
</g>
<rect x="486.00" y="254.00" width="61.60" height="10.00" fill="#a9a9a9" stroke="#444" stroke-width="0.7"/>
<g filter="url(#bl2)">
<ellipse cx="491.13" cy="258.00" rx="4.6" ry="1.4" fill="#333"/>
<ellipse cx="501.40" cy="257.80" rx="4.6" ry="1.4" fill="#333"/>
<ellipse cx="511.67" cy="258.00" rx="4.6" ry="1.4" fill="#333"/>
<ellipse cx="521.93" cy="258.50" rx="4.6" ry="1.6" fill="#2a2a2a"/>
<ellipse cx="532.20" cy="259.20" rx="4.6" ry="1.6" fill="#2a2a2a"/>
<ellipse cx="542.47" cy="260.20" rx="4.8" ry="2.0" fill="#111"/>
</g>
<text transform="translate(483.60 216.02) scale(0.9 1)" font-size="7.67" text-anchor="end" fill="#111">P-CREB</text>
<text transform="translate(483.60 227.02) scale(0.9 1)" font-size="7.67" text-anchor="end" fill="#111">CREB</text>
<text transform="translate(483.60 238.42) scale(0.9 1)" font-size="7.67" text-anchor="end" fill="#111">P-CamkII</text>
<text transform="translate(483.60 249.72) scale(0.9 1)" font-size="7.67" text-anchor="end" fill="#111">CamkII</text>
<text transform="translate(483.60 261.72) scale(0.9 1)" font-size="7.67" text-anchor="end" fill="#111">GAPDH</text>
<line x1="547.60" y1="214.00" x2="553.20" y2="214.00" stroke="#333" stroke-width="0.7"/>
<text transform="translate(554.50 217.42) scale(0.9 1)" font-size="7.67" text-anchor="start" fill="#111">37</text>
<line x1="547.60" y1="225.90" x2="553.20" y2="225.90" stroke="#333" stroke-width="0.7"/>
<text transform="translate(554.50 228.62) scale(0.9 1)" font-size="7.67" text-anchor="start" fill="#111">37</text>
<line x1="547.60" y1="236.70" x2="553.20" y2="236.70" stroke="#333" stroke-width="0.7"/>
<text transform="translate(554.50 239.12) scale(0.9 1)" font-size="7.67" text-anchor="start" fill="#111">50</text>
<line x1="547.60" y1="248.00" x2="553.20" y2="248.00" stroke="#333" stroke-width="0.7"/>
<text transform="translate(554.50 250.72) scale(0.9 1)" font-size="7.67" text-anchor="start" fill="#111">50</text>
<line x1="547.60" y1="259.50" x2="553.20" y2="259.50" stroke="#333" stroke-width="0.7"/>
<text transform="translate(554.50 262.72) scale(0.9 1)" font-size="7.67" text-anchor="start" fill="#111">37</text>
<text transform="translate(500.80 202.76) scale(0.9 1)" font-size="7.78" text-anchor="middle" fill="#111">control</text>
<line x1="488.00" y1="205.00" x2="514.00" y2="205.00" stroke="#555" stroke-width="0.6"/>
<text transform="translate(534.20 194.36) scale(0.9 1)" font-size="7.78" text-anchor="middle" fill="#111" font-style="italic">miR-802</text>
<text transform="translate(534.20 202.76) scale(0.9 1)" font-size="7.78" text-anchor="middle" fill="#111" font-style="italic">KO</text>
<line x1="521.00" y1="205.00" x2="547.00" y2="205.00" stroke="#555" stroke-width="0.6"/>
<text x="576.6" y="193.3" font-size="14" font-weight="bold" fill="#000" stroke="#000" stroke-width="0.45">k</text>
<rect x="607.60" y="207.60" width="63.00" height="10.00" fill="#dcdcdc" stroke="#555" stroke-width="0.7"/>
<g filter="url(#bl2)">
<ellipse cx="612.85" cy="212.40" rx="5.4" ry="2.2" fill="#050505"/>
<ellipse cx="623.35" cy="212.60" rx="5.8" ry="2.8" fill="#000"/>
<ellipse cx="633.85" cy="212.40" rx="5.0" ry="2.2" fill="#050505"/>
<ellipse cx="644.35" cy="212.60" rx="3.5" ry="1.5" fill="#b0b0b0"/>
<ellipse cx="654.85" cy="213.00" rx="3.5" ry="1.2" fill="#c0c0c0"/>
<ellipse cx="665.35" cy="213.00" rx="4.0" ry="1.2" fill="#b8b8b8"/>
</g>
<rect x="607.60" y="219.00" width="63.00" height="9.00" fill="#cacaca" stroke="#555" stroke-width="0.7"/>
<g filter="url(#bl2)">
<ellipse cx="612.85" cy="223.40" rx="4.2" ry="1.7" fill="#1a1a1a"/>
<ellipse cx="623.35" cy="223.60" rx="4.6" ry="1.9" fill="#151515"/>
<ellipse cx="633.85" cy="223.60" rx="4.6" ry="1.9" fill="#151515"/>
<ellipse cx="644.35" cy="223.60" rx="4.6" ry="1.9" fill="#222"/>
<ellipse cx="654.85" cy="223.60" rx="4.6" ry="1.9" fill="#151515"/>
<ellipse cx="665.35" cy="223.60" rx="4.6" ry="1.9" fill="#151515"/>
</g>
<rect x="607.60" y="230.00" width="63.00" height="11.00" fill="#c4c4c4" stroke="#444" stroke-width="0.7"/>
<g filter="url(#bl2)">
<ellipse cx="612.85" cy="234.50" rx="4.8" ry="1.8" fill="#1a1a1a"/>
<ellipse cx="623.35" cy="235.50" rx="4.2" ry="4.6" fill="#000"/>
<ellipse cx="633.85" cy="235.50" rx="4.2" ry="4.6" fill="#000"/>
<ellipse cx="644.35" cy="236.50" rx="3.8" ry="1.6" fill="#a0a0a0"/>
<ellipse cx="654.85" cy="236.50" rx="3.8" ry="1.6" fill="#a8a8a8"/>
<ellipse cx="665.35" cy="236.00" rx="3.8" ry="1.6" fill="#a4a4a4"/>
</g>
<rect x="607.60" y="242.40" width="63.00" height="9.60" fill="#c8c8c8" stroke="#555" stroke-width="0.7"/>
<g filter="url(#bl2)">
<ellipse cx="612.85" cy="247.40" rx="4.8" ry="2.2" fill="#111"/>
<ellipse cx="623.35" cy="246.80" rx="4.8" ry="2.2" fill="#151515"/>
<ellipse cx="633.85" cy="247.00" rx="4.8" ry="2.2" fill="#151515"/>
<ellipse cx="644.35" cy="247.60" rx="4.6" ry="2.0" fill="#1a1a1a"/>
<ellipse cx="654.85" cy="247.20" rx="4.6" ry="2.2" fill="#151515"/>
<ellipse cx="665.35" cy="247.40" rx="5.0" ry="2.6" fill="#0a0a0a"/>
</g>
<rect x="607.60" y="254.00" width="63.00" height="9.60" fill="#bcbcbc" stroke="#555" stroke-width="0.7"/>
<g filter="url(#bl2)">
<ellipse cx="612.85" cy="258.40" rx="5.0" ry="2.0" fill="#111"/>
<ellipse cx="623.35" cy="258.60" rx="5.0" ry="2.0" fill="#151515"/>
<ellipse cx="633.85" cy="258.60" rx="5.0" ry="2.0" fill="#151515"/>
<ellipse cx="644.35" cy="258.60" rx="4.8" ry="1.6" fill="#333"/>
<ellipse cx="654.85" cy="258.80" rx="4.8" ry="1.6" fill="#333"/>
<ellipse cx="665.35" cy="259.40" rx="5.0" ry="2.0" fill="#1a1a1a"/>
</g>
<text transform="translate(605.10 215.32) scale(0.9 1)" font-size="7.67" text-anchor="end" fill="#111">P-CREB</text>
<text transform="translate(605.10 226.32) scale(0.9 1)" font-size="7.67" text-anchor="end" fill="#111">CREB</text>
<text transform="translate(605.10 238.22) scale(0.9 1)" font-size="7.67" text-anchor="end" fill="#111">P-CamkII</text>
<text transform="translate(605.10 249.82) scale(0.9 1)" font-size="7.67" text-anchor="end" fill="#111">CamkII</text>
<text transform="translate(605.10 261.52) scale(0.9 1)" font-size="7.67" text-anchor="end" fill="#111">GAPDH</text>
<line x1="670.60" y1="212.60" x2="675.20" y2="212.60" stroke="#333" stroke-width="0.7"/>
<text transform="translate(676.50 215.52) scale(0.9 1)" font-size="7.67" text-anchor="start" fill="#111">37</text>
<line x1="670.60" y1="223.60" x2="675.20" y2="223.60" stroke="#333" stroke-width="0.7"/>
<text transform="translate(676.50 226.52) scale(0.9 1)" font-size="7.67" text-anchor="start" fill="#111">37</text>
<line x1="670.60" y1="234.00" x2="675.20" y2="234.00" stroke="#333" stroke-width="0.7"/>
<text transform="translate(676.50 238.12) scale(0.9 1)" font-size="7.67" text-anchor="start" fill="#111">50</text>
<line x1="670.60" y1="247.00" x2="675.20" y2="247.00" stroke="#333" stroke-width="0.7"/>
<text transform="translate(676.50 249.72) scale(0.9 1)" font-size="7.67" text-anchor="start" fill="#111">50</text>
<line x1="670.60" y1="258.60" x2="675.20" y2="258.60" stroke="#333" stroke-width="0.7"/>
<text transform="translate(676.50 261.52) scale(0.9 1)" font-size="7.67" text-anchor="start" fill="#111">37</text>
<text transform="translate(623.00 202.76) scale(0.9 1)" font-size="7.78" text-anchor="middle" fill="#111">control</text>
<line x1="609.00" y1="204.40" x2="636.00" y2="204.40" stroke="#555" stroke-width="0.6"/>
<text transform="translate(655.40 193.76) scale(0.9 1)" font-size="7.78" text-anchor="middle" fill="#111" font-style="italic">miR-802</text>
<text transform="translate(655.40 202.76) scale(0.9 1)" font-size="7.78" text-anchor="middle" fill="#111" font-style="italic">KI</text>
<line x1="643.00" y1="204.40" x2="669.00" y2="204.40" stroke="#555" stroke-width="0.6"/>
<text x="435.2" y="288.3" font-size="14" font-weight="bold" fill="#000" stroke="#000" stroke-width="0.45">l</text>
<rect x="465.10" y="336.60" width="61.30" height="9.50" fill="#dcdcdc" stroke="#555" stroke-width="0.7"/>
<g filter="url(#bl2)">
<ellipse cx="468.51" cy="341.80" rx="2.4" ry="1.0" fill="#555"/>
<ellipse cx="475.32" cy="341.50" rx="2.4" ry="1.0" fill="#666"/>
<ellipse cx="482.13" cy="341.20" rx="2.6" ry="1.1" fill="#333"/>
<ellipse cx="488.94" cy="340.80" rx="3.2" ry="1.8" fill="#111"/>
<ellipse cx="495.75" cy="341.00" rx="3.2" ry="1.8" fill="#111"/>
<ellipse cx="502.56" cy="341.20" rx="3.0" ry="1.6" fill="#1a1a1a"/>
<ellipse cx="509.37" cy="342.30" rx="2.4" ry="1.1" fill="#444"/>
<ellipse cx="516.18" cy="342.50" rx="2.2" ry="1.0" fill="#555"/>
<ellipse cx="522.99" cy="343.00" rx="1.8" ry="0.8" fill="#999"/>
</g>
<rect x="465.10" y="348.00" width="61.30" height="9.50" fill="#e2e2e2" stroke="#555" stroke-width="0.7"/>
<g filter="url(#bl2)">
<ellipse cx="468.51" cy="352.80" rx="2.4" ry="1.3" fill="#333"/>
<ellipse cx="475.32" cy="352.80" rx="2.0" ry="1.1" fill="#444"/>
<ellipse cx="482.13" cy="352.60" rx="2.6" ry="1.4" fill="#222"/>
<ellipse cx="488.94" cy="352.80" rx="2.4" ry="1.2" fill="#333"/>
<ellipse cx="495.75" cy="352.80" rx="2.6" ry="1.4" fill="#222"/>
<ellipse cx="502.56" cy="352.60" rx="2.6" ry="1.3" fill="#2a2a2a"/>
<ellipse cx="509.37" cy="352.40" rx="2.6" ry="1.5" fill="#222"/>
<ellipse cx="516.18" cy="352.60" rx="2.6" ry="1.4" fill="#222"/>
<ellipse cx="522.99" cy="352.60" rx="2.6" ry="1.4" fill="#2a2a2a"/>
</g>
<rect x="465.10" y="358.80" width="61.30" height="10.10" fill="#d2d2d2" stroke="#555" stroke-width="0.7"/>
<g filter="url(#bl2)">
<ellipse cx="468.51" cy="363.60" rx="2.8" ry="2.0" fill="#1a1a1a"/>
<ellipse cx="475.32" cy="363.80" rx="2.6" ry="1.6" fill="#666"/>
<ellipse cx="482.13" cy="363.60" rx="2.8" ry="2.0" fill="#1a1a1a"/>
<ellipse cx="488.94" cy="363.80" rx="3.6" ry="3.0" fill="#000"/>
<ellipse cx="495.75" cy="363.60" rx="3.6" ry="3.2" fill="#000"/>
<ellipse cx="502.56" cy="363.60" rx="3.4" ry="2.8" fill="#050505"/>
<ellipse cx="509.37" cy="363.60" rx="2.8" ry="2.0" fill="#222"/>
<ellipse cx="516.18" cy="364.20" rx="2.6" ry="1.4" fill="#888"/>
<ellipse cx="522.99" cy="363.80" rx="2.8" ry="1.8" fill="#444"/>
</g>
<rect x="465.10" y="369.80" width="61.30" height="10.50" fill="#c4c4c4" stroke="#555" stroke-width="0.7"/>
<g filter="url(#bl2)">
<ellipse cx="468.51" cy="375.00" rx="3.3" ry="3.6" fill="#000"/>
<ellipse cx="475.32" cy="375.00" rx="3.3" ry="3.6" fill="#050505"/>
<ellipse cx="482.13" cy="375.00" rx="3.2" ry="3.4" fill="#050505"/>
<ellipse cx="488.94" cy="375.00" rx="3.4" ry="3.8" fill="#000"/>
<ellipse cx="495.75" cy="375.00" rx="3.4" ry="3.8" fill="#050505"/>
<ellipse cx="502.56" cy="375.00" rx="3.3" ry="3.6" fill="#050505"/>
<ellipse cx="509.37" cy="375.00" rx="3.2" ry="3.6" fill="#000"/>
<ellipse cx="516.18" cy="375.00" rx="3.4" ry="3.8" fill="#000"/>
<ellipse cx="522.99" cy="375.00" rx="3.3" ry="3.6" fill="#050505"/>
</g>
<rect x="465.10" y="382.20" width="61.30" height="9.50" fill="#bdbdbd" stroke="#555" stroke-width="0.7"/>
<g filter="url(#bl2)">
<ellipse cx="468.51" cy="387.20" rx="3.2" ry="1.8" fill="#111"/>
<ellipse cx="475.32" cy="387.20" rx="3.4" ry="2.0" fill="#0a0a0a"/>
<ellipse cx="482.13" cy="387.20" rx="3.2" ry="1.8" fill="#111"/>
<ellipse cx="488.94" cy="387.20" rx="3.3" ry="1.8" fill="#111"/>
<ellipse cx="495.75" cy="387.20" rx="3.4" ry="2.0" fill="#0a0a0a"/>
<ellipse cx="502.56" cy="386.80" rx="3.2" ry="1.8" fill="#151515"/>
<ellipse cx="509.37" cy="387.20" rx="3.3" ry="2.0" fill="#0a0a0a"/>
<ellipse cx="516.18" cy="387.20" rx="3.3" ry="2.0" fill="#0a0a0a"/>
<ellipse cx="522.99" cy="387.20" rx="3.4" ry="2.0" fill="#0a0a0a"/>
</g>
<text transform="translate(463.60 344.52) scale(0.9 1)" font-size="7.67" text-anchor="end" fill="#111">P-CREB</text>
<text transform="translate(463.60 355.52) scale(0.9 1)" font-size="7.67" text-anchor="end" fill="#111">CREB</text>
<text transform="translate(463.60 367.82) scale(0.9 1)" font-size="7.67" text-anchor="end" fill="#111">P-CamkII</text>
<text transform="translate(463.60 378.22) scale(0.9 1)" font-size="7.67" text-anchor="end" fill="#111">CamkII</text>
<text transform="translate(463.60 389.62) scale(0.9 1)" font-size="7.67" text-anchor="end" fill="#111">GAPDH</text>
<line x1="526.40" y1="345.20" x2="532.50" y2="345.20" stroke="#333" stroke-width="0.7"/>
<text transform="translate(533.80 344.52) scale(0.9 1)" font-size="7.67" text-anchor="start" fill="#111">37</text>
<line x1="526.40" y1="355.00" x2="532.50" y2="355.00" stroke="#333" stroke-width="0.7"/>
<text transform="translate(533.80 357.72) scale(0.9 1)" font-size="7.67" text-anchor="start" fill="#111">37</text>
<line x1="526.40" y1="361.00" x2="532.50" y2="361.00" stroke="#333" stroke-width="0.7"/>
<text transform="translate(533.80 367.82) scale(0.9 1)" font-size="7.67" text-anchor="start" fill="#111">50</text>
<line x1="526.40" y1="375.50" x2="532.50" y2="375.50" stroke="#333" stroke-width="0.7"/>
<text transform="translate(533.80 378.22) scale(0.9 1)" font-size="7.67" text-anchor="start" fill="#111">50</text>
<line x1="526.40" y1="386.90" x2="532.50" y2="386.90" stroke="#333" stroke-width="0.7"/>
<text transform="translate(533.80 389.62) scale(0.9 1)" font-size="7.67" text-anchor="start" fill="#111">37</text>
<text x="472.20" y="313.19" font-size="7.0" text-anchor="start" fill="#111" transform="rotate(90 472.20 310.70)">control</text>
<text x="495.10" y="296.38" font-size="7.0" text-anchor="start" fill="#111" font-style="italic" transform="rotate(90 495.10 293.90)">len-shFoxo1</text>
<text x="511.20" y="293.49" font-size="7.0" text-anchor="start" fill="#111" font-style="italic" transform="rotate(90 511.20 291.00)">len-miR-802</text>
<text x="520.70" y="290.49" font-size="7.0" text-anchor="start" fill="#111" font-style="italic" transform="rotate(90 520.70 288.00)">len-shFoxo1 +</text>
<line x1="465.00" y1="334.30" x2="480.50" y2="334.30" stroke="#555" stroke-width="0.6"/>
<line x1="489.30" y1="334.30" x2="505.40" y2="334.30" stroke="#555" stroke-width="0.6"/>
<line x1="509.30" y1="334.30" x2="525.80" y2="334.30" stroke="#555" stroke-width="0.6"/>
<text x="566.0" y="288.3" font-size="14" font-weight="bold" fill="#000" stroke="#000" stroke-width="0.45">m</text>
<rect x="593.30" y="302.60" width="49.20" height="9.80" fill="#e4e4e4" stroke="#555" stroke-width="0.7"/>
<g filter="url(#bl2)">
<ellipse cx="597.40" cy="306.80" rx="4.8" ry="2.0" fill="#080808"/>
<ellipse cx="605.60" cy="307.20" rx="4.8" ry="1.8" fill="#111"/>
<ellipse cx="613.80" cy="307.60" rx="4.6" ry="1.6" fill="#222"/>
<ellipse cx="622.00" cy="307.80" rx="4.0" ry="1.3" fill="#777"/>
<ellipse cx="630.20" cy="308.20" rx="3.6" ry="1.1" fill="#999"/>
<ellipse cx="638.40" cy="308.20" rx="3.0" ry="0.9" fill="#ccc"/>
</g>
<rect x="593.30" y="314.60" width="49.20" height="9.90" fill="#4c4c4c" stroke="#333" stroke-width="0.7"/>
<g filter="url(#bl2)">
<ellipse cx="597.40" cy="319.80" rx="4.6" ry="1.8" fill="#050505"/>
<ellipse cx="605.60" cy="320.00" rx="4.6" ry="1.8" fill="#050505"/>
<ellipse cx="613.80" cy="319.60" rx="4.6" ry="2.2" fill="#000"/>
<ellipse cx="622.00" cy="319.40" rx="4.4" ry="2.0" fill="#050505"/>
<ellipse cx="630.20" cy="319.60" rx="4.4" ry="2.0" fill="#000"/>
<ellipse cx="638.40" cy="320.40" rx="4.6" ry="2.2" fill="#000"/>
</g>
<text transform="translate(591.10 311.18) scale(0.9 1)" font-size="7.56" text-anchor="end" fill="#111">Sox6</text>
<text transform="translate(591.10 322.38) scale(0.9 1)" font-size="7.56" text-anchor="end" fill="#111">GAPDH</text>
<line x1="642.50" y1="307.20" x2="646.30" y2="307.20" stroke="#333" stroke-width="0.7"/>
<text transform="translate(647.60 311.26) scale(0.9 1)" font-size="7.78" text-anchor="start" fill="#111">93</text>
<line x1="642.50" y1="319.70" x2="646.30" y2="319.70" stroke="#333" stroke-width="0.7"/>
<text transform="translate(647.60 322.46) scale(0.9 1)" font-size="7.78" text-anchor="start" fill="#111">37</text>
<text transform="translate(605.70 298.06) scale(0.9 1)" font-size="7.78" text-anchor="middle" fill="#111">control</text>
<line x1="596.50" y1="299.70" x2="614.70" y2="299.70" stroke="#777" stroke-width="0.6"/>
<text transform="translate(632.00 290.06) scale(0.9 1)" font-size="7.78" text-anchor="middle" fill="#111" font-style="italic">miR-802</text>
<text transform="translate(632.00 298.06) scale(0.9 1)" font-size="7.78" text-anchor="middle" fill="#111" font-style="italic">KO</text>
<line x1="622.80" y1="299.70" x2="640.00" y2="299.70" stroke="#777" stroke-width="0.6"/>
<line x1="595.80" y1="335.00" x2="595.80" y2="402.80" stroke="#111" stroke-width="1.0"/>
<line x1="592.80" y1="402.80" x2="595.80" y2="402.80" stroke="#111" stroke-width="1.0"/>
<text transform="translate(590.40 405.40) scale(0.9 1)" font-size="7.33" text-anchor="end" fill="#111">0.0</text>
<line x1="592.80" y1="385.80" x2="595.80" y2="385.80" stroke="#111" stroke-width="1.0"/>
<text transform="translate(590.40 388.40) scale(0.9 1)" font-size="7.33" text-anchor="end" fill="#111">0.3</text>
<line x1="592.80" y1="368.80" x2="595.80" y2="368.80" stroke="#111" stroke-width="1.0"/>
<text transform="translate(590.40 371.40) scale(0.9 1)" font-size="7.33" text-anchor="end" fill="#111">0.6</text>
<line x1="592.80" y1="351.80" x2="595.80" y2="351.80" stroke="#111" stroke-width="1.0"/>
<text transform="translate(590.40 354.40) scale(0.9 1)" font-size="7.33" text-anchor="end" fill="#111">0.9</text>
<line x1="592.80" y1="334.80" x2="595.80" y2="334.80" stroke="#111" stroke-width="1.0"/>
<text transform="translate(590.40 337.40) scale(0.9 1)" font-size="7.33" text-anchor="end" fill="#111">1.2</text>
<line x1="595.80" y1="402.80" x2="648.50" y2="402.80" stroke="#111" stroke-width="1.0"/>
<rect x="600.60" y="346.13" width="17.20" height="56.67" fill="#d4d4d4" stroke="#111" stroke-width="1.0"/>
<rect x="627.05" y="393.17" width="16.70" height="9.63" fill="#a00000" stroke="#111" stroke-width="1.0"/>
<line x1="609.20" y1="402.80" x2="609.20" y2="405.20" stroke="#111" stroke-width="0.9"/>
<line x1="635.40" y1="402.80" x2="635.40" y2="405.20" stroke="#111" stroke-width="0.9"/>
<line x1="609.20" y1="338.77" x2="609.20" y2="353.50" stroke="#111" stroke-width="0.7"/>
<line x1="606.70" y1="338.77" x2="611.70" y2="338.77" stroke="#111" stroke-width="0.7"/>
<line x1="606.70" y1="353.50" x2="611.70" y2="353.50" stroke="#111" stroke-width="0.7"/>
<line x1="635.40" y1="388.63" x2="635.40" y2="393.17" stroke="#111" stroke-width="0.7"/>
<line x1="632.90" y1="388.63" x2="637.90" y2="388.63" stroke="#111" stroke-width="0.7"/>
<circle cx="607.20" cy="339.33" r="1.7" fill="#fff" stroke="#111" stroke-width="1.2"/>
<circle cx="611.50" cy="339.33" r="1.7" fill="#fff" stroke="#111" stroke-width="1.2"/>
<circle cx="609.20" cy="358.60" r="1.7" fill="#fff" stroke="#111" stroke-width="1.2"/>
<circle cx="635.40" cy="389.20" r="1.7" fill="#fff" stroke="#111" stroke-width="1.2"/>
<circle cx="633.00" cy="394.30" r="1.7" fill="#fff" stroke="#111" stroke-width="1.2"/>
<circle cx="637.60" cy="394.30" r="1.7" fill="#fff" stroke="#111" stroke-width="1.2"/>
<path d="M606.40 336.70V334.70H639.60V336.70" fill="none" stroke="#333" stroke-width="0.6"/>
<text transform="translate(623.50 333.01) scale(0.9 1)" font-size="6.22" text-anchor="middle" fill="#111"><tspan font-style="italic">p</tspan> = 0.0006</text>
<text x="574.00" y="370.49" font-size="7.0" text-anchor="middle" fill="#111" transform="rotate(-90 574.00 368.00)">Relative <tspan font-style="italic">Sox6</tspan> level</text>
<text x="613.60" y="412.60" font-size="7" text-anchor="end" fill="#111" transform="rotate(-45 613.60 412.60)">control</text>
<text x="638.60" y="412.60" font-size="7" text-anchor="end" fill="#111" font-style="italic" transform="rotate(-45 638.60 412.60)">miR-802 KO</text>
<text x="-0.5" y="364.0" font-size="14" font-weight="bold" fill="#000" stroke="#000" stroke-width="0.45">n</text>
<rect x="31.10" y="375.20" width="48.70" height="10.10" fill="#6e6e6e" stroke="#333" stroke-width="0.7"/>
<g filter="url(#bl2)">
<ellipse cx="35.16" cy="380.00" rx="3.8" ry="1.2" fill="#4a4a4a"/>
<ellipse cx="43.27" cy="379.60" rx="4.0" ry="1.4" fill="#333"/>
<ellipse cx="51.39" cy="379.80" rx="4.0" ry="1.4" fill="#3a3a3a"/>
<ellipse cx="59.51" cy="380.20" rx="4.4" ry="2.4" fill="#111"/>
<ellipse cx="67.62" cy="380.00" rx="4.4" ry="2.6" fill="#0a0a0a"/>
<ellipse cx="75.74" cy="379.60" rx="4.6" ry="3.2" fill="#000"/>
</g>
<rect x="31.10" y="387.10" width="48.70" height="9.80" fill="#8a8a8a" stroke="#333" stroke-width="0.7"/>
<g filter="url(#bl2)">
<ellipse cx="35.16" cy="391.20" rx="4.6" ry="1.6" fill="#080808"/>
<ellipse cx="43.27" cy="391.80" rx="4.4" ry="1.8" fill="#111"/>
<ellipse cx="51.39" cy="392.00" rx="4.4" ry="1.8" fill="#111"/>
<ellipse cx="59.51" cy="391.60" rx="4.4" ry="1.6" fill="#151515"/>
<ellipse cx="67.62" cy="391.80" rx="4.4" ry="1.6" fill="#151515"/>
<ellipse cx="75.74" cy="392.60" rx="4.6" ry="2.0" fill="#080808"/>
</g>
<text transform="translate(28.70 383.18) scale(0.9 1)" font-size="7.56" text-anchor="end" fill="#111">Sox6</text>
<text transform="translate(28.70 394.68) scale(0.9 1)" font-size="7.56" text-anchor="end" fill="#111">GAPDH</text>
<line x1="79.80" y1="380.00" x2="82.60" y2="380.00" stroke="#333" stroke-width="0.7"/>
<text transform="translate(84.00 383.26) scale(0.9 1)" font-size="7.78" text-anchor="start" fill="#111">93</text>
<line x1="79.80" y1="391.80" x2="82.60" y2="391.80" stroke="#333" stroke-width="0.7"/>
<text transform="translate(84.00 394.76) scale(0.9 1)" font-size="7.78" text-anchor="start" fill="#111">37</text>
<text transform="translate(43.40 370.96) scale(0.9 1)" font-size="7.78" text-anchor="middle" fill="#111">control</text>
<line x1="32.90" y1="372.10" x2="52.90" y2="372.10" stroke="#777" stroke-width="0.6"/>
<text transform="translate(71.40 362.56) scale(0.9 1)" font-size="7.78" text-anchor="middle" fill="#111" font-style="italic">miR-802</text>
<text transform="translate(71.40 370.96) scale(0.9 1)" font-size="7.78" text-anchor="middle" fill="#111" font-style="italic">KI</text>
<line x1="60.20" y1="372.10" x2="78.70" y2="372.10" stroke="#777" stroke-width="0.6"/>
<line x1="35.00" y1="408.20" x2="35.00" y2="465.10" stroke="#111" stroke-width="1.0"/>
<line x1="32.00" y1="465.10" x2="35.00" y2="465.10" stroke="#111" stroke-width="1.0"/>
<text transform="translate(29.60 467.70) scale(0.9 1)" font-size="7.33" text-anchor="end" fill="#111">0</text>
<line x1="32.00" y1="450.88" x2="35.00" y2="450.88" stroke="#111" stroke-width="1.0"/>
<text transform="translate(29.60 453.48) scale(0.9 1)" font-size="7.33" text-anchor="end" fill="#111">3</text>
<line x1="32.00" y1="436.66" x2="35.00" y2="436.66" stroke="#111" stroke-width="1.0"/>
<text transform="translate(29.60 439.26) scale(0.9 1)" font-size="7.33" text-anchor="end" fill="#111">6</text>
<line x1="32.00" y1="422.44" x2="35.00" y2="422.44" stroke="#111" stroke-width="1.0"/>
<text transform="translate(29.60 425.04) scale(0.9 1)" font-size="7.33" text-anchor="end" fill="#111">9</text>
<line x1="32.00" y1="408.22" x2="35.00" y2="408.22" stroke="#111" stroke-width="1.0"/>
<text transform="translate(29.60 410.82) scale(0.9 1)" font-size="7.33" text-anchor="end" fill="#111">12</text>
<line x1="35.00" y1="465.10" x2="81.30" y2="465.10" stroke="#111" stroke-width="1.0"/>
<rect x="42.00" y="461.31" width="14.00" height="3.79" fill="#d4d4d4" stroke="#111" stroke-width="1.0"/>
<rect x="62.20" y="419.12" width="14.00" height="45.98" fill="#a00000" stroke="#111" stroke-width="1.0"/>
<line x1="49.00" y1="465.10" x2="49.00" y2="467.50" stroke="#111" stroke-width="0.9"/>
<line x1="69.20" y1="465.10" x2="69.20" y2="467.50" stroke="#111" stroke-width="0.9"/>
<line x1="69.20" y1="408.69" x2="69.20" y2="419.12" stroke="#111" stroke-width="0.7"/>
<line x1="67.00" y1="408.69" x2="71.40" y2="408.69" stroke="#111" stroke-width="0.7"/>
<line x1="69.20" y1="419.12" x2="69.20" y2="429.55" stroke="#111" stroke-width="0.7"/>
<line x1="67.00" y1="429.55" x2="71.40" y2="429.55" stroke="#111" stroke-width="0.7"/>
<circle cx="45.50" cy="461.31" r="1.7" fill="#fff" stroke="#111" stroke-width="1.2"/>
<circle cx="49.20" cy="461.07" r="1.7" fill="#fff" stroke="#111" stroke-width="1.2"/>
<circle cx="52.80" cy="461.31" r="1.7" fill="#fff" stroke="#111" stroke-width="1.2"/>
<circle cx="67.40" cy="410.12" r="1.7" fill="#fff" stroke="#111" stroke-width="1.2"/>
<circle cx="71.20" cy="415.80" r="1.7" fill="#fff" stroke="#111" stroke-width="1.2"/>
<circle cx="69.40" cy="430.02" r="1.7" fill="#fff" stroke="#111" stroke-width="1.2"/>
<path d="M43.40 408.00V406.00H73.50V408.00" fill="none" stroke="#333" stroke-width="0.6"/>
<text transform="translate(58.10 404.31) scale(0.9 1)" font-size="6.22" text-anchor="middle" fill="#111"><tspan font-style="italic">p</tspan> = 0.0021</text>
<text x="16.80" y="438.16" font-size="7.2" text-anchor="middle" fill="#111" transform="rotate(-90 16.80 435.60)">Relative <tspan font-style="italic">Sox6</tspan> level</text>
<text x="52.80" y="474.00" font-size="7" text-anchor="end" fill="#111" transform="rotate(-45 52.80 474.00)">control</text>
<text x="72.50" y="474.00" font-size="7" text-anchor="end" fill="#111" font-style="italic" transform="rotate(-45 72.50 474.00)">miR-802 KI</text>
<text x="121.3" y="384.3" font-size="14" font-weight="bold" fill="#000" stroke="#000" stroke-width="0.45">o</text>
<rect x="150.30" y="383.60" width="12.00" height="5.70" fill="#d4d4d4" stroke="#555" stroke-width="0.6"/>
<text transform="translate(165.70 388.69) scale(0.9 1)" font-size="5.89" text-anchor="start" fill="#111">IgG</text>
<rect x="150.30" y="391.70" width="12.00" height="5.60" fill="#a00000" stroke="#555" stroke-width="0.6"/>
<text transform="translate(165.70 396.69) scale(0.9 1)" font-size="5.89" text-anchor="start" fill="#111">R1</text>
<rect x="150.30" y="399.70" width="12.00" height="5.60" fill="#0000c8" stroke="#555" stroke-width="0.6"/>
<text transform="translate(165.70 404.69) scale(0.9 1)" font-size="5.89" text-anchor="start" fill="#111">R2</text>
<line x1="147.20" y1="396.30" x2="147.20" y2="465.80" stroke="#111" stroke-width="1.0"/>
<line x1="144.20" y1="465.80" x2="147.20" y2="465.80" stroke="#111" stroke-width="1.0"/>
<text transform="translate(141.80 468.40) scale(0.9 1)" font-size="7.33" text-anchor="end" fill="#111">0</text>
<line x1="144.20" y1="451.90" x2="147.20" y2="451.90" stroke="#111" stroke-width="1.0"/>
<text transform="translate(141.80 454.50) scale(0.9 1)" font-size="7.33" text-anchor="end" fill="#111">10</text>
<line x1="144.20" y1="438.00" x2="147.20" y2="438.00" stroke="#111" stroke-width="1.0"/>
<text transform="translate(141.80 440.60) scale(0.9 1)" font-size="7.33" text-anchor="end" fill="#111">20</text>
<line x1="144.20" y1="424.10" x2="147.20" y2="424.10" stroke="#111" stroke-width="1.0"/>
<text transform="translate(141.80 426.70) scale(0.9 1)" font-size="7.33" text-anchor="end" fill="#111">30</text>
<line x1="144.20" y1="410.20" x2="147.20" y2="410.20" stroke="#111" stroke-width="1.0"/>
<text transform="translate(141.80 412.80) scale(0.9 1)" font-size="7.33" text-anchor="end" fill="#111">40</text>
<line x1="144.20" y1="396.30" x2="147.20" y2="396.30" stroke="#111" stroke-width="1.0"/>
<text transform="translate(141.80 398.90) scale(0.9 1)" font-size="7.33" text-anchor="end" fill="#111">50</text>
<line x1="147.20" y1="465.80" x2="242.50" y2="465.80" stroke="#111" stroke-width="1.0"/>
<rect x="182.00" y="453.29" width="4.40" height="12.51" fill="#a00000" stroke="#222" stroke-width="0.7"/>
<rect x="189.00" y="462.32" width="4.40" height="3.48" fill="#a00000" stroke="#222" stroke-width="0.7"/>
<rect x="196.30" y="453.29" width="4.40" height="12.51" fill="#a00000" stroke="#222" stroke-width="0.7"/>
<rect x="203.30" y="414.37" width="4.40" height="51.43" fill="#a00000" stroke="#222" stroke-width="0.7"/>
<line x1="152.00" y1="465.80" x2="152.00" y2="467.80" stroke="#111" stroke-width="0.8"/>
<line x1="159.00" y1="465.80" x2="159.00" y2="467.80" stroke="#111" stroke-width="0.8"/>
<line x1="166.00" y1="465.80" x2="166.00" y2="467.80" stroke="#111" stroke-width="0.8"/>
<line x1="173.00" y1="465.80" x2="173.00" y2="467.80" stroke="#111" stroke-width="0.8"/>
<line x1="184.20" y1="465.80" x2="184.20" y2="467.80" stroke="#111" stroke-width="0.8"/>
<line x1="191.20" y1="465.80" x2="191.20" y2="467.80" stroke="#111" stroke-width="0.8"/>
<line x1="198.50" y1="465.80" x2="198.50" y2="467.80" stroke="#111" stroke-width="0.8"/>
<line x1="205.50" y1="465.80" x2="205.50" y2="467.80" stroke="#111" stroke-width="0.8"/>
<line x1="217.80" y1="465.80" x2="217.80" y2="467.80" stroke="#111" stroke-width="0.8"/>
<line x1="224.80" y1="465.80" x2="224.80" y2="467.80" stroke="#111" stroke-width="0.8"/>
<line x1="231.80" y1="465.80" x2="231.80" y2="467.80" stroke="#111" stroke-width="0.8"/>
<line x1="238.20" y1="465.80" x2="238.20" y2="467.80" stroke="#111" stroke-width="0.8"/>
<circle cx="152.00" cy="465.50" r="1.8" fill="#fff" stroke="#111" stroke-width="1.2"/>
<circle cx="159.00" cy="465.50" r="1.8" fill="#fff" stroke="#111" stroke-width="1.2"/>
<circle cx="166.00" cy="465.50" r="1.8" fill="#fff" stroke="#111" stroke-width="1.2"/>
<circle cx="173.00" cy="465.50" r="1.8" fill="#fff" stroke="#111" stroke-width="1.2"/>
<circle cx="217.80" cy="465.50" r="1.8" fill="#fff" stroke="#111" stroke-width="1.2"/>
<circle cx="224.80" cy="465.50" r="1.8" fill="#fff" stroke="#111" stroke-width="1.2"/>
<circle cx="231.80" cy="465.50" r="1.8" fill="#fff" stroke="#111" stroke-width="1.2"/>
<circle cx="238.20" cy="465.50" r="1.8" fill="#fff" stroke="#111" stroke-width="1.2"/>
<circle cx="184.20" cy="452.46" r="1.8" fill="#fff" stroke="#111" stroke-width="1.2"/>
<circle cx="184.20" cy="454.40" r="1.6" fill="#fff" stroke="#111" stroke-width="1.2"/>
<circle cx="191.20" cy="461.63" r="1.8" fill="#fff" stroke="#111" stroke-width="1.2"/>
<circle cx="191.20" cy="463.58" r="1.6" fill="#fff" stroke="#111" stroke-width="1.2"/>
<circle cx="198.50" cy="452.04" r="1.8" fill="#fff" stroke="#111" stroke-width="1.2"/>
<circle cx="198.50" cy="454.12" r="1.6" fill="#fff" stroke="#111" stroke-width="1.2"/>
<circle cx="203.60" cy="409.50" r="1.8" fill="#fff" stroke="#111" stroke-width="1.2"/>
<circle cx="203.60" cy="414.93" r="1.8" fill="#fff" stroke="#111" stroke-width="1.2"/>
<circle cx="207.60" cy="413.68" r="1.8" fill="#fff" stroke="#111" stroke-width="1.2"/>
<path d="M152.00 461.20V459.60H159.00V461.20" fill="none" stroke="#333" stroke-width="0.6"/>
<text transform="translate(155.50 457.35) scale(0.9 1)" font-size="5.78" text-anchor="middle" fill="#111">NS</text>
<path d="M166.00 461.20V459.60H173.00V461.20" fill="none" stroke="#333" stroke-width="0.6"/>
<text transform="translate(169.50 457.35) scale(0.9 1)" font-size="5.78" text-anchor="middle" fill="#111">NS</text>
<path d="M217.80 461.20V459.60H224.80V461.20" fill="none" stroke="#333" stroke-width="0.6"/>
<text transform="translate(221.30 457.35) scale(0.9 1)" font-size="5.78" text-anchor="middle" fill="#111">NS</text>
<path d="M231.80 461.20V459.60H238.20V461.20" fill="none" stroke="#333" stroke-width="0.6"/>
<text transform="translate(235.00 457.35) scale(0.9 1)" font-size="5.78" text-anchor="middle" fill="#111">NS</text>
<path d="M184.20 449.20V447.40H191.20V449.20" fill="none" stroke="#333" stroke-width="0.6"/>
<text transform="translate(187.80 444.81) scale(0.9 1)" font-size="6.22" text-anchor="middle" fill="#111"><tspan font-style="italic">p</tspan> &lt; 0.0001</text>
<path d="M198.50 406.60V404.80H205.50V406.60" fill="none" stroke="#333" stroke-width="0.6"/>
<text transform="translate(204.00 402.81) scale(0.9 1)" font-size="6.22" text-anchor="middle" fill="#111"><tspan font-style="italic">p</tspan> &lt; 0.0001</text>
<text x="126.20" y="433.96" font-size="7.2" text-anchor="middle" fill="#111" transform="rotate(-90 126.20 431.40)">Fold change (% of input)</text>
<text x="152.00" y="471.79" font-size="7" text-anchor="end" fill="#111" transform="rotate(-90 152.00 469.30)">si NC</text>
<text x="159.00" y="471.79" font-size="7" text-anchor="end" fill="#111" transform="rotate(-90 159.00 469.30)">si CREB</text>
<text x="166.00" y="471.79" font-size="7" text-anchor="end" fill="#111" transform="rotate(-90 166.00 469.30)">vehicle</text>
<text x="173.00" y="471.79" font-size="7" text-anchor="end" fill="#111" transform="rotate(-90 173.00 469.30)">CREB</text>
<text x="184.20" y="471.79" font-size="7" text-anchor="end" fill="#111" transform="rotate(-90 184.20 469.30)">si NC</text>
<text x="191.20" y="471.79" font-size="7" text-anchor="end" fill="#111" transform="rotate(-90 191.20 469.30)">si CREB</text>
<text x="198.50" y="471.79" font-size="7" text-anchor="end" fill="#111" transform="rotate(-90 198.50 469.30)">vehicle</text>
<text x="205.50" y="471.79" font-size="7" text-anchor="end" fill="#111" transform="rotate(-90 205.50 469.30)">CREB</text>
<text x="217.80" y="471.79" font-size="7" text-anchor="end" fill="#111" transform="rotate(-90 217.80 469.30)">si NC</text>
<text x="224.80" y="471.79" font-size="7" text-anchor="end" fill="#111" transform="rotate(-90 224.80 469.30)">si CREB</text>
<text x="231.80" y="471.79" font-size="7" text-anchor="end" fill="#111" transform="rotate(-90 231.80 469.30)">vehicle</text>
<text x="238.20" y="471.79" font-size="7" text-anchor="end" fill="#111" transform="rotate(-90 238.20 469.30)">CREB</text>
<text x="274.5" y="387.2" font-size="14" font-weight="bold" fill="#000" stroke="#000" stroke-width="0.45">p</text>
<line x1="303.20" y1="396.90" x2="303.20" y2="464.30" stroke="#111" stroke-width="1.0"/>
<line x1="300.20" y1="464.30" x2="303.20" y2="464.30" stroke="#111" stroke-width="1.0"/>
<text transform="translate(297.80 466.90) scale(0.9 1)" font-size="7.33" text-anchor="end" fill="#111">0</text>
<line x1="300.20" y1="441.83" x2="303.20" y2="441.83" stroke="#111" stroke-width="1.0"/>
<text transform="translate(297.80 444.43) scale(0.9 1)" font-size="7.33" text-anchor="end" fill="#111">1</text>
<line x1="300.20" y1="419.36" x2="303.20" y2="419.36" stroke="#111" stroke-width="1.0"/>
<text transform="translate(297.80 421.96) scale(0.9 1)" font-size="7.33" text-anchor="end" fill="#111">2</text>
<line x1="300.20" y1="396.89" x2="303.20" y2="396.89" stroke="#111" stroke-width="1.0"/>
<text transform="translate(297.80 399.49) scale(0.9 1)" font-size="7.33" text-anchor="end" fill="#111">3</text>
<line x1="303.20" y1="464.30" x2="347.40" y2="464.30" stroke="#111" stroke-width="1.0"/>
<rect x="307.05" y="441.83" width="6.30" height="22.47" fill="#d4d4d4" stroke="#111" stroke-width="1.0"/>
<line x1="310.20" y1="464.30" x2="310.20" y2="466.50" stroke="#111" stroke-width="0.9"/>
<rect x="317.55" y="409.25" width="6.30" height="55.05" fill="#d4d4d4" stroke="#111" stroke-width="1.0"/>
<line x1="320.70" y1="464.30" x2="320.70" y2="466.50" stroke="#111" stroke-width="0.9"/>
<rect x="328.05" y="454.19" width="6.30" height="10.11" fill="#d4d4d4" stroke="#111" stroke-width="1.0"/>
<line x1="331.20" y1="464.30" x2="331.20" y2="466.50" stroke="#111" stroke-width="0.9"/>
<rect x="338.45" y="432.39" width="6.30" height="31.91" fill="#d4d4d4" stroke="#111" stroke-width="1.0"/>
<line x1="341.60" y1="464.30" x2="341.60" y2="466.50" stroke="#111" stroke-width="0.9"/>
<line x1="320.70" y1="401.83" x2="320.70" y2="409.25" stroke="#111" stroke-width="0.7"/>
<line x1="319.10" y1="401.83" x2="322.30" y2="401.83" stroke="#111" stroke-width="0.7"/>
<line x1="331.20" y1="451.72" x2="331.20" y2="454.19" stroke="#111" stroke-width="0.7"/>
<line x1="329.60" y1="451.72" x2="332.80" y2="451.72" stroke="#111" stroke-width="0.7"/>
<circle cx="309.50" cy="440.71" r="1.7" fill="#fff" stroke="#111" stroke-width="1.2"/>
<circle cx="311.20" cy="442.50" r="1.7" fill="#fff" stroke="#111" stroke-width="1.2"/>
<circle cx="320.70" cy="401.83" r="1.7" fill="#fff" stroke="#111" stroke-width="1.2"/>
<circle cx="319.50" cy="409.92" r="1.7" fill="#fff" stroke="#111" stroke-width="1.2"/>
<circle cx="322.00" cy="410.37" r="1.7" fill="#fff" stroke="#111" stroke-width="1.2"/>
<circle cx="330.50" cy="451.94" r="1.7" fill="#fff" stroke="#111" stroke-width="1.2"/>
<circle cx="331.80" cy="454.19" r="1.7" fill="#fff" stroke="#111" stroke-width="1.2"/>
<circle cx="340.80" cy="431.72" r="1.7" fill="#fff" stroke="#111" stroke-width="1.2"/>
<circle cx="342.30" cy="432.84" r="1.7" fill="#fff" stroke="#111" stroke-width="1.2"/>
<path d="M307.80 387.80V386.00H334.70V387.80" fill="none" stroke="#333" stroke-width="0.6"/>
<text transform="translate(321.60 383.81) scale(0.9 1)" font-size="6.22" text-anchor="middle" fill="#111"><tspan font-style="italic">p</tspan> = 0.0073</text>
<path d="M307.80 399.40V397.60H321.00V399.40" fill="none" stroke="#333" stroke-width="0.6"/>
<text transform="translate(306.80 395.21) scale(0.9 1)" font-size="6.22" text-anchor="start" fill="#111"><tspan font-style="italic">p</tspan> &lt; 0.0001</text>
<path d="M329.00 428.10V426.30H341.60V428.10" fill="none" stroke="#333" stroke-width="0.6"/>
<text transform="translate(335.50 425.11) scale(0.9 1)" font-size="6.22" text-anchor="middle" fill="#111"><tspan font-style="italic">p</tspan> = 0.0001</text>
<text x="278.40" y="434.56" font-size="7.2" text-anchor="middle" fill="#111" transform="rotate(-90 278.40 432.00)">Relative luciferase</text>
<text x="287.10" y="434.56" font-size="7.2" text-anchor="middle" fill="#111" transform="rotate(-90 287.10 432.00)">activity</text>
<text transform="translate(297.90 473.59) scale(0.9 1)" font-size="7.00" text-anchor="end" fill="#111" font-style="italic">over-Sox6</text>
<text transform="translate(297.90 482.79) scale(0.9 1)" font-size="7.00" text-anchor="end" fill="#111" font-style="italic">over-CREB</text>
<text transform="translate(310.20 473.70) scale(0.9 1)" font-size="7.33" text-anchor="middle" fill="#111">−</text>
<text transform="translate(310.20 482.90) scale(0.9 1)" font-size="7.33" text-anchor="middle" fill="#111">−</text>
<text transform="translate(320.70 473.70) scale(0.9 1)" font-size="7.33" text-anchor="middle" fill="#111">−</text>
<text transform="translate(320.70 482.90) scale(0.9 1)" font-size="7.33" text-anchor="middle" fill="#111">+</text>
<text transform="translate(331.20 473.70) scale(0.9 1)" font-size="7.33" text-anchor="middle" fill="#111">+</text>
<text transform="translate(331.20 482.90) scale(0.9 1)" font-size="7.33" text-anchor="middle" fill="#111">−</text>
<text transform="translate(341.60 473.70) scale(0.9 1)" font-size="7.33" text-anchor="middle" fill="#111">+</text>
<text transform="translate(341.60 482.90) scale(0.9 1)" font-size="7.33" text-anchor="middle" fill="#111">+</text>
</svg>
</body></html>
